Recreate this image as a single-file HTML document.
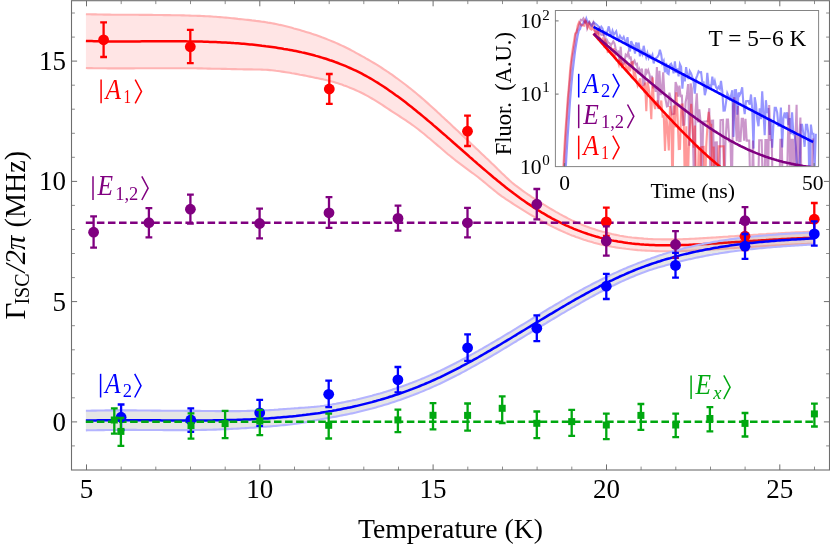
<!DOCTYPE html>
<html><head><meta charset="utf-8"><title>ISC rate vs temperature</title>
<style>html,body{margin:0;padding:0;background:#fff}svg{display:block;will-change:transform}text{font-family:"Liberation Serif",serif;fill:#000}</style>
</head><body>
<svg width="830" height="547" viewBox="0 0 830 547">
<rect width="830" height="547" fill="#fff"/>
<path d="M85.9,14.2 L87.9,14.3 L89.9,14.3 L91.9,14.4 L93.9,14.4 L95.9,14.4 L97.9,14.5 L99.9,14.5 L101.9,14.5 L103.9,14.6 L105.9,14.6 L107.9,14.6 L109.9,14.6 L111.9,14.7 L113.9,14.7 L115.9,14.7 L117.9,14.7 L119.9,14.7 L121.9,14.7 L123.9,14.8 L125.9,14.8 L127.9,14.8 L129.9,14.8 L131.9,14.8 L133.9,14.8 L135.9,14.8 L137.9,14.8 L139.9,14.9 L141.9,14.9 L143.9,14.9 L145.9,14.9 L147.9,14.9 L149.9,14.9 L151.9,14.9 L153.9,15.0 L155.9,15.0 L157.9,15.0 L159.9,15.0 L161.9,15.0 L163.9,15.1 L165.9,15.1 L167.9,15.1 L169.9,15.1 L171.9,15.2 L173.9,15.2 L175.9,15.2 L177.9,15.3 L179.9,15.3 L181.9,15.4 L183.9,15.4 L185.9,15.5 L187.9,15.5 L189.9,15.6 L191.9,15.7 L193.9,15.7 L195.9,15.8 L197.9,15.9 L199.9,15.9 L201.9,16.0 L203.9,16.1 L205.9,16.2 L207.9,16.3 L209.9,16.4 L211.9,16.5 L213.9,16.7 L215.9,16.8 L217.9,17.0 L219.9,17.1 L221.9,17.3 L223.9,17.5 L225.9,17.6 L227.9,17.8 L229.9,18.0 L231.9,18.2 L233.9,18.4 L235.9,18.6 L237.9,18.9 L239.9,19.1 L241.9,19.3 L243.9,19.5 L245.9,19.7 L247.9,19.9 L249.9,20.1 L251.9,20.4 L253.9,20.6 L255.9,20.9 L257.9,21.1 L259.9,21.4 L261.9,21.7 L263.9,21.9 L265.9,22.2 L267.9,22.6 L269.9,22.9 L271.9,23.2 L273.9,23.6 L275.9,24.0 L277.9,24.4 L279.9,24.9 L281.9,25.3 L283.9,25.8 L285.9,26.3 L287.9,26.8 L289.9,27.3 L291.9,27.8 L293.9,28.4 L295.9,28.9 L297.9,29.5 L299.9,30.1 L301.9,30.7 L303.9,31.3 L305.9,31.9 L307.9,32.5 L309.9,33.1 L311.9,33.8 L313.9,34.4 L315.9,35.1 L317.9,35.8 L319.9,36.5 L321.9,37.3 L323.9,38.0 L325.9,38.8 L327.9,39.6 L329.9,40.4 L331.9,41.2 L333.9,42.0 L335.9,42.9 L337.9,43.8 L339.9,44.7 L341.9,45.6 L343.9,46.5 L345.9,47.5 L347.9,48.5 L349.9,49.5 L351.9,50.6 L353.9,51.7 L355.9,52.8 L357.9,53.9 L359.9,55.0 L361.9,56.1 L363.9,57.2 L365.9,58.4 L367.9,59.5 L369.9,60.6 L371.9,61.8 L373.9,63.0 L375.9,64.2 L377.9,65.4 L379.9,66.7 L381.9,68.0 L383.9,69.3 L385.9,70.6 L387.9,72.0 L389.9,73.3 L391.9,74.7 L393.9,76.1 L395.9,77.6 L397.9,79.0 L399.9,80.5 L401.9,82.0 L403.9,83.5 L405.9,85.0 L407.9,86.6 L409.9,88.2 L411.9,89.7 L413.9,91.4 L415.9,93.0 L417.9,94.7 L419.9,96.4 L421.9,98.1 L423.9,99.8 L425.9,101.6 L427.9,103.4 L429.9,105.2 L431.9,107.0 L433.9,108.8 L435.9,110.6 L437.9,112.5 L439.9,114.3 L441.9,116.2 L443.9,118.0 L445.9,119.9 L447.9,121.7 L449.9,123.6 L451.9,125.5 L453.9,127.4 L455.9,129.2 L457.9,131.1 L459.9,133.0 L461.9,134.9 L463.9,136.8 L465.9,138.7 L467.9,140.6 L469.9,142.5 L471.9,144.4 L473.9,146.3 L475.9,148.2 L477.9,150.1 L479.9,152.0 L481.9,153.9 L483.9,155.8 L485.9,157.7 L487.9,159.5 L489.9,161.4 L491.9,163.4 L493.9,165.3 L495.9,167.3 L497.9,169.3 L499.9,171.2 L501.9,173.2 L503.9,175.1 L505.9,177.1 L507.9,178.9 L509.9,180.7 L511.9,182.5 L513.9,184.1 L515.9,185.7 L517.9,187.2 L519.9,188.7 L521.9,190.2 L523.9,191.6 L525.9,193.0 L527.9,194.4 L529.9,195.7 L531.9,197.1 L533.9,198.4 L535.9,199.7 L537.9,201.0 L539.9,202.2 L541.9,203.4 L543.9,204.7 L545.9,205.9 L547.9,207.1 L549.9,208.3 L551.9,209.5 L553.9,210.6 L555.9,211.8 L557.9,212.9 L559.9,214.1 L561.9,215.2 L563.9,216.3 L565.9,217.3 L567.9,218.4 L569.9,219.4 L571.9,220.4 L573.9,221.3 L575.9,222.2 L577.9,223.1 L579.9,223.9 L581.9,224.7 L583.9,225.5 L585.9,226.3 L587.9,227.0 L589.9,227.8 L591.9,228.4 L593.9,229.1 L595.9,229.8 L597.9,230.4 L599.9,231.0 L601.9,231.6 L603.9,232.1 L605.9,232.6 L607.9,233.1 L609.9,233.6 L611.9,234.1 L613.9,234.5 L615.9,234.9 L617.9,235.3 L619.9,235.7 L621.9,236.0 L623.9,236.4 L625.9,236.7 L627.9,237.0 L629.9,237.2 L631.9,237.5 L633.9,237.7 L635.9,237.9 L637.9,238.1 L639.9,238.3 L641.9,238.4 L643.9,238.6 L645.9,238.7 L647.9,238.9 L649.9,239.0 L651.9,239.1 L653.9,239.2 L655.9,239.2 L657.9,239.3 L659.9,239.3 L661.9,239.4 L663.9,239.4 L665.9,239.4 L667.9,239.4 L669.9,239.4 L671.9,239.4 L673.9,239.4 L675.9,239.3 L677.9,239.3 L679.9,239.3 L681.9,239.2 L683.9,239.1 L685.9,239.1 L687.9,239.0 L689.9,238.9 L691.9,238.8 L693.9,238.7 L695.9,238.6 L697.9,238.5 L699.9,238.4 L701.9,238.3 L703.9,238.1 L705.9,238.0 L707.9,237.9 L709.9,237.8 L711.9,237.6 L713.9,237.5 L715.9,237.4 L717.9,237.2 L719.9,237.1 L721.9,237.0 L723.9,236.8 L725.9,236.7 L727.9,236.6 L729.9,236.4 L731.9,236.3 L733.9,236.2 L735.9,236.0 L737.9,235.9 L739.9,235.8 L741.9,235.6 L743.9,235.5 L745.9,235.4 L747.9,235.2 L749.9,235.1 L751.9,235.0 L753.9,234.8 L755.9,234.7 L757.9,234.6 L759.9,234.4 L761.9,234.3 L763.9,234.2 L765.9,234.1 L767.9,233.9 L769.9,233.8 L771.9,233.7 L773.9,233.6 L775.9,233.5 L777.9,233.4 L779.9,233.2 L781.9,233.1 L783.9,233.0 L785.9,232.9 L787.9,232.8 L789.9,232.7 L791.9,232.6 L793.9,232.5 L795.9,232.4 L797.9,232.3 L799.9,232.2 L801.9,232.2 L803.9,232.1 L805.9,232.0 L807.9,231.9 L809.9,231.9 L811.9,231.8 L813.9,231.7 L814.9,231.7 L814.9,243.7 L813.9,243.7 L811.9,243.8 L809.9,243.8 L807.9,243.9 L805.9,244.0 L803.9,244.1 L801.9,244.1 L799.9,244.2 L797.9,244.3 L795.9,244.4 L793.9,244.5 L791.9,244.6 L789.9,244.7 L787.9,244.8 L785.9,244.9 L783.9,245.0 L781.9,245.1 L779.9,245.2 L777.9,245.3 L775.9,245.4 L773.9,245.5 L771.9,245.6 L769.9,245.8 L767.9,245.9 L765.9,246.0 L763.9,246.1 L761.9,246.2 L759.9,246.4 L757.9,246.5 L755.9,246.6 L753.9,246.7 L751.9,246.9 L749.9,247.0 L747.9,247.1 L745.9,247.3 L743.9,247.4 L741.9,247.5 L739.9,247.7 L737.9,247.8 L735.9,247.9 L733.9,248.1 L731.9,248.2 L729.9,248.3 L727.9,248.5 L725.9,248.6 L723.9,248.7 L721.9,248.9 L719.9,249.0 L717.9,249.1 L715.9,249.3 L713.9,249.4 L711.9,249.5 L709.9,249.6 L707.9,249.8 L705.9,249.9 L703.9,250.0 L701.9,250.1 L699.9,250.2 L697.9,250.3 L695.9,250.4 L693.9,250.5 L691.9,250.6 L689.9,250.7 L687.9,250.8 L685.9,250.9 L683.9,250.9 L681.9,251.0 L679.9,251.1 L677.9,251.1 L675.9,251.2 L673.9,251.2 L671.9,251.2 L669.9,251.2 L667.9,251.2 L665.9,251.2 L663.9,251.2 L661.9,251.2 L659.9,251.2 L657.9,251.1 L655.9,251.1 L653.9,251.0 L651.9,250.9 L649.9,250.8 L647.9,250.7 L645.9,250.6 L643.9,250.5 L641.9,250.4 L639.9,250.2 L637.9,250.1 L635.9,249.9 L633.9,249.7 L631.9,249.5 L629.9,249.3 L627.9,249.0 L625.9,248.8 L623.9,248.5 L621.9,248.3 L619.9,248.0 L617.9,247.7 L615.9,247.4 L613.9,247.0 L611.9,246.7 L609.9,246.3 L607.9,245.9 L605.9,245.5 L603.9,245.1 L601.9,244.7 L599.9,244.2 L597.9,243.7 L595.9,243.2 L593.9,242.7 L591.9,242.1 L589.9,241.6 L587.9,241.0 L585.9,240.3 L583.9,239.7 L581.9,239.0 L579.9,238.3 L577.9,237.6 L575.9,236.9 L573.9,236.1 L571.9,235.4 L569.9,234.6 L567.9,233.7 L565.9,232.9 L563.9,232.0 L561.9,231.1 L559.9,230.2 L557.9,229.3 L555.9,228.3 L553.9,227.4 L551.9,226.4 L549.9,225.4 L547.9,224.3 L545.9,223.3 L543.9,222.2 L541.9,221.1 L539.9,220.0 L537.9,218.9 L535.9,217.8 L533.9,216.6 L531.9,215.5 L529.9,214.3 L527.9,213.1 L525.9,211.9 L523.9,210.7 L521.9,209.4 L519.9,208.2 L517.9,206.9 L515.9,205.6 L513.9,204.3 L511.9,203.0 L509.9,201.7 L507.9,200.4 L505.9,199.1 L503.9,197.7 L501.9,196.3 L499.9,194.8 L497.9,193.3 L495.9,191.7 L493.9,190.1 L491.9,188.5 L489.9,186.9 L487.9,185.2 L485.9,183.5 L483.9,181.9 L481.9,180.2 L479.9,178.6 L477.9,177.0 L475.9,175.5 L473.9,174.0 L471.9,172.6 L469.9,171.1 L467.9,169.6 L465.9,168.1 L463.9,166.6 L461.9,165.1 L459.9,163.6 L457.9,162.1 L455.9,160.6 L453.9,159.0 L451.9,157.4 L449.9,155.8 L447.9,154.2 L445.9,152.5 L443.9,150.7 L441.9,149.0 L439.9,147.3 L437.9,145.6 L435.9,143.9 L433.9,142.2 L431.9,140.5 L429.9,138.8 L427.9,137.2 L425.9,135.5 L423.9,133.8 L421.9,132.2 L419.9,130.6 L417.9,129.0 L415.9,127.5 L413.9,126.0 L411.9,124.6 L409.9,123.2 L407.9,121.8 L405.9,120.4 L403.9,119.1 L401.9,117.8 L399.9,116.5 L397.9,115.2 L395.9,113.9 L393.9,112.6 L391.9,111.3 L389.9,110.0 L387.9,108.7 L385.9,107.3 L383.9,106.0 L381.9,104.7 L379.9,103.4 L377.9,102.1 L375.9,100.9 L373.9,99.7 L371.9,98.5 L369.9,97.3 L367.9,96.2 L365.9,95.1 L363.9,94.0 L361.9,93.0 L359.9,92.0 L357.9,91.1 L355.9,90.2 L353.9,89.3 L351.9,88.5 L349.9,87.7 L347.9,86.9 L345.9,86.1 L343.9,85.4 L341.9,84.6 L339.9,83.9 L337.9,83.3 L335.9,82.7 L333.9,82.1 L331.9,81.5 L329.9,81.0 L327.9,80.5 L325.9,80.0 L323.9,79.6 L321.9,79.1 L319.9,78.7 L317.9,78.3 L315.9,77.9 L313.9,77.4 L311.9,77.0 L309.9,76.6 L307.9,76.2 L305.9,75.8 L303.9,75.4 L301.9,75.0 L299.9,74.7 L297.9,74.3 L295.9,73.9 L293.9,73.5 L291.9,73.2 L289.9,72.8 L287.9,72.5 L285.9,72.2 L283.9,71.9 L281.9,71.6 L279.9,71.3 L277.9,71.0 L275.9,70.8 L273.9,70.5 L271.9,70.3 L269.9,70.1 L267.9,69.9 L265.9,69.8 L263.9,69.7 L261.9,69.6 L259.9,69.5 L257.9,69.5 L255.9,69.5 L253.9,69.5 L251.9,69.4 L249.9,69.4 L247.9,69.4 L245.9,69.4 L243.9,69.4 L241.9,69.3 L239.9,69.3 L237.9,69.2 L235.9,69.1 L233.9,69.1 L231.9,69.1 L229.9,69.0 L227.9,69.0 L225.9,68.9 L223.9,68.9 L221.9,68.9 L219.9,68.8 L217.9,68.8 L215.9,68.8 L213.9,68.7 L211.9,68.7 L209.9,68.6 L207.9,68.6 L205.9,68.5 L203.9,68.5 L201.9,68.4 L199.9,68.4 L197.9,68.4 L195.9,68.3 L193.9,68.3 L191.9,68.3 L189.9,68.3 L187.9,68.2 L185.9,68.2 L183.9,68.2 L181.9,68.2 L179.9,68.2 L177.9,68.2 L175.9,68.2 L173.9,68.2 L171.9,68.2 L169.9,68.2 L167.9,68.2 L165.9,68.2 L163.9,68.2 L161.9,68.2 L159.9,68.2 L157.9,68.2 L155.9,68.2 L153.9,68.2 L151.9,68.2 L149.9,68.3 L147.9,68.3 L145.9,68.3 L143.9,68.3 L141.9,68.3 L139.9,68.3 L137.9,68.3 L135.9,68.3 L133.9,68.4 L131.9,68.4 L129.9,68.4 L127.9,68.4 L125.9,68.4 L123.9,68.4 L121.9,68.4 L119.9,68.4 L117.9,68.4 L115.9,68.4 L113.9,68.4 L111.9,68.4 L109.9,68.4 L107.9,68.4 L105.9,68.3 L103.9,68.3 L101.9,68.3 L99.9,68.3 L97.9,68.3 L95.9,68.2 L93.9,68.2 L91.9,68.1 L89.9,68.1 L87.9,68.1 L85.9,68.0Z" fill="rgba(255,0,0,0.10)" stroke="none"/>
<path d="M85.9,14.2 L87.9,14.3 L89.9,14.3 L91.9,14.4 L93.9,14.4 L95.9,14.4 L97.9,14.5 L99.9,14.5 L101.9,14.5 L103.9,14.6 L105.9,14.6 L107.9,14.6 L109.9,14.6 L111.9,14.7 L113.9,14.7 L115.9,14.7 L117.9,14.7 L119.9,14.7 L121.9,14.7 L123.9,14.8 L125.9,14.8 L127.9,14.8 L129.9,14.8 L131.9,14.8 L133.9,14.8 L135.9,14.8 L137.9,14.8 L139.9,14.9 L141.9,14.9 L143.9,14.9 L145.9,14.9 L147.9,14.9 L149.9,14.9 L151.9,14.9 L153.9,15.0 L155.9,15.0 L157.9,15.0 L159.9,15.0 L161.9,15.0 L163.9,15.1 L165.9,15.1 L167.9,15.1 L169.9,15.1 L171.9,15.2 L173.9,15.2 L175.9,15.2 L177.9,15.3 L179.9,15.3 L181.9,15.4 L183.9,15.4 L185.9,15.5 L187.9,15.5 L189.9,15.6 L191.9,15.7 L193.9,15.7 L195.9,15.8 L197.9,15.9 L199.9,15.9 L201.9,16.0 L203.9,16.1 L205.9,16.2 L207.9,16.3 L209.9,16.4 L211.9,16.5 L213.9,16.7 L215.9,16.8 L217.9,17.0 L219.9,17.1 L221.9,17.3 L223.9,17.5 L225.9,17.6 L227.9,17.8 L229.9,18.0 L231.9,18.2 L233.9,18.4 L235.9,18.6 L237.9,18.9 L239.9,19.1 L241.9,19.3 L243.9,19.5 L245.9,19.7 L247.9,19.9 L249.9,20.1 L251.9,20.4 L253.9,20.6 L255.9,20.9 L257.9,21.1 L259.9,21.4 L261.9,21.7 L263.9,21.9 L265.9,22.2 L267.9,22.6 L269.9,22.9 L271.9,23.2 L273.9,23.6 L275.9,24.0 L277.9,24.4 L279.9,24.9 L281.9,25.3 L283.9,25.8 L285.9,26.3 L287.9,26.8 L289.9,27.3 L291.9,27.8 L293.9,28.4 L295.9,28.9 L297.9,29.5 L299.9,30.1 L301.9,30.7 L303.9,31.3 L305.9,31.9 L307.9,32.5 L309.9,33.1 L311.9,33.8 L313.9,34.4 L315.9,35.1 L317.9,35.8 L319.9,36.5 L321.9,37.3 L323.9,38.0 L325.9,38.8 L327.9,39.6 L329.9,40.4 L331.9,41.2 L333.9,42.0 L335.9,42.9 L337.9,43.8 L339.9,44.7 L341.9,45.6 L343.9,46.5 L345.9,47.5 L347.9,48.5 L349.9,49.5 L351.9,50.6 L353.9,51.7 L355.9,52.8 L357.9,53.9 L359.9,55.0 L361.9,56.1 L363.9,57.2 L365.9,58.4 L367.9,59.5 L369.9,60.6 L371.9,61.8 L373.9,63.0 L375.9,64.2 L377.9,65.4 L379.9,66.7 L381.9,68.0 L383.9,69.3 L385.9,70.6 L387.9,72.0 L389.9,73.3 L391.9,74.7 L393.9,76.1 L395.9,77.6 L397.9,79.0 L399.9,80.5 L401.9,82.0 L403.9,83.5 L405.9,85.0 L407.9,86.6 L409.9,88.2 L411.9,89.7 L413.9,91.4 L415.9,93.0 L417.9,94.7 L419.9,96.4 L421.9,98.1 L423.9,99.8 L425.9,101.6 L427.9,103.4 L429.9,105.2 L431.9,107.0 L433.9,108.8 L435.9,110.6 L437.9,112.5 L439.9,114.3 L441.9,116.2 L443.9,118.0 L445.9,119.9 L447.9,121.7 L449.9,123.6 L451.9,125.5 L453.9,127.4 L455.9,129.2 L457.9,131.1 L459.9,133.0 L461.9,134.9 L463.9,136.8 L465.9,138.7 L467.9,140.6 L469.9,142.5 L471.9,144.4 L473.9,146.3 L475.9,148.2 L477.9,150.1 L479.9,152.0 L481.9,153.9 L483.9,155.8 L485.9,157.7 L487.9,159.5 L489.9,161.4 L491.9,163.4 L493.9,165.3 L495.9,167.3 L497.9,169.3 L499.9,171.2 L501.9,173.2 L503.9,175.1 L505.9,177.1 L507.9,178.9 L509.9,180.7 L511.9,182.5 L513.9,184.1 L515.9,185.7 L517.9,187.2 L519.9,188.7 L521.9,190.2 L523.9,191.6 L525.9,193.0 L527.9,194.4 L529.9,195.7 L531.9,197.1 L533.9,198.4 L535.9,199.7 L537.9,201.0 L539.9,202.2 L541.9,203.4 L543.9,204.7 L545.9,205.9 L547.9,207.1 L549.9,208.3 L551.9,209.5 L553.9,210.6 L555.9,211.8 L557.9,212.9 L559.9,214.1 L561.9,215.2 L563.9,216.3 L565.9,217.3 L567.9,218.4 L569.9,219.4 L571.9,220.4 L573.9,221.3 L575.9,222.2 L577.9,223.1 L579.9,223.9 L581.9,224.7 L583.9,225.5 L585.9,226.3 L587.9,227.0 L589.9,227.8 L591.9,228.4 L593.9,229.1 L595.9,229.8 L597.9,230.4 L599.9,231.0 L601.9,231.6 L603.9,232.1 L605.9,232.6 L607.9,233.1 L609.9,233.6 L611.9,234.1 L613.9,234.5 L615.9,234.9 L617.9,235.3 L619.9,235.7 L621.9,236.0 L623.9,236.4 L625.9,236.7 L627.9,237.0 L629.9,237.2 L631.9,237.5 L633.9,237.7 L635.9,237.9 L637.9,238.1 L639.9,238.3 L641.9,238.4 L643.9,238.6 L645.9,238.7 L647.9,238.9 L649.9,239.0 L651.9,239.1 L653.9,239.2 L655.9,239.2 L657.9,239.3 L659.9,239.3 L661.9,239.4 L663.9,239.4 L665.9,239.4 L667.9,239.4 L669.9,239.4 L671.9,239.4 L673.9,239.4 L675.9,239.3 L677.9,239.3 L679.9,239.3 L681.9,239.2 L683.9,239.1 L685.9,239.1 L687.9,239.0 L689.9,238.9 L691.9,238.8 L693.9,238.7 L695.9,238.6 L697.9,238.5 L699.9,238.4 L701.9,238.3 L703.9,238.1 L705.9,238.0 L707.9,237.9 L709.9,237.8 L711.9,237.6 L713.9,237.5 L715.9,237.4 L717.9,237.2 L719.9,237.1 L721.9,237.0 L723.9,236.8 L725.9,236.7 L727.9,236.6 L729.9,236.4 L731.9,236.3 L733.9,236.2 L735.9,236.0 L737.9,235.9 L739.9,235.8 L741.9,235.6 L743.9,235.5 L745.9,235.4 L747.9,235.2 L749.9,235.1 L751.9,235.0 L753.9,234.8 L755.9,234.7 L757.9,234.6 L759.9,234.4 L761.9,234.3 L763.9,234.2 L765.9,234.1 L767.9,233.9 L769.9,233.8 L771.9,233.7 L773.9,233.6 L775.9,233.5 L777.9,233.4 L779.9,233.2 L781.9,233.1 L783.9,233.0 L785.9,232.9 L787.9,232.8 L789.9,232.7 L791.9,232.6 L793.9,232.5 L795.9,232.4 L797.9,232.3 L799.9,232.2 L801.9,232.2 L803.9,232.1 L805.9,232.0 L807.9,231.9 L809.9,231.9 L811.9,231.8 L813.9,231.7 L814.9,231.7" fill="none" stroke="#ffb4b4" stroke-width="2.1"/>
<path d="M85.9,68.0 L87.9,68.1 L89.9,68.1 L91.9,68.1 L93.9,68.2 L95.9,68.2 L97.9,68.3 L99.9,68.3 L101.9,68.3 L103.9,68.3 L105.9,68.3 L107.9,68.4 L109.9,68.4 L111.9,68.4 L113.9,68.4 L115.9,68.4 L117.9,68.4 L119.9,68.4 L121.9,68.4 L123.9,68.4 L125.9,68.4 L127.9,68.4 L129.9,68.4 L131.9,68.4 L133.9,68.4 L135.9,68.3 L137.9,68.3 L139.9,68.3 L141.9,68.3 L143.9,68.3 L145.9,68.3 L147.9,68.3 L149.9,68.3 L151.9,68.2 L153.9,68.2 L155.9,68.2 L157.9,68.2 L159.9,68.2 L161.9,68.2 L163.9,68.2 L165.9,68.2 L167.9,68.2 L169.9,68.2 L171.9,68.2 L173.9,68.2 L175.9,68.2 L177.9,68.2 L179.9,68.2 L181.9,68.2 L183.9,68.2 L185.9,68.2 L187.9,68.2 L189.9,68.3 L191.9,68.3 L193.9,68.3 L195.9,68.3 L197.9,68.4 L199.9,68.4 L201.9,68.4 L203.9,68.5 L205.9,68.5 L207.9,68.6 L209.9,68.6 L211.9,68.7 L213.9,68.7 L215.9,68.8 L217.9,68.8 L219.9,68.8 L221.9,68.9 L223.9,68.9 L225.9,68.9 L227.9,69.0 L229.9,69.0 L231.9,69.1 L233.9,69.1 L235.9,69.1 L237.9,69.2 L239.9,69.3 L241.9,69.3 L243.9,69.4 L245.9,69.4 L247.9,69.4 L249.9,69.4 L251.9,69.4 L253.9,69.5 L255.9,69.5 L257.9,69.5 L259.9,69.5 L261.9,69.6 L263.9,69.7 L265.9,69.8 L267.9,69.9 L269.9,70.1 L271.9,70.3 L273.9,70.5 L275.9,70.8 L277.9,71.0 L279.9,71.3 L281.9,71.6 L283.9,71.9 L285.9,72.2 L287.9,72.5 L289.9,72.8 L291.9,73.2 L293.9,73.5 L295.9,73.9 L297.9,74.3 L299.9,74.7 L301.9,75.0 L303.9,75.4 L305.9,75.8 L307.9,76.2 L309.9,76.6 L311.9,77.0 L313.9,77.4 L315.9,77.9 L317.9,78.3 L319.9,78.7 L321.9,79.1 L323.9,79.6 L325.9,80.0 L327.9,80.5 L329.9,81.0 L331.9,81.5 L333.9,82.1 L335.9,82.7 L337.9,83.3 L339.9,83.9 L341.9,84.6 L343.9,85.4 L345.9,86.1 L347.9,86.9 L349.9,87.7 L351.9,88.5 L353.9,89.3 L355.9,90.2 L357.9,91.1 L359.9,92.0 L361.9,93.0 L363.9,94.0 L365.9,95.1 L367.9,96.2 L369.9,97.3 L371.9,98.5 L373.9,99.7 L375.9,100.9 L377.9,102.1 L379.9,103.4 L381.9,104.7 L383.9,106.0 L385.9,107.3 L387.9,108.7 L389.9,110.0 L391.9,111.3 L393.9,112.6 L395.9,113.9 L397.9,115.2 L399.9,116.5 L401.9,117.8 L403.9,119.1 L405.9,120.4 L407.9,121.8 L409.9,123.2 L411.9,124.6 L413.9,126.0 L415.9,127.5 L417.9,129.0 L419.9,130.6 L421.9,132.2 L423.9,133.8 L425.9,135.5 L427.9,137.2 L429.9,138.8 L431.9,140.5 L433.9,142.2 L435.9,143.9 L437.9,145.6 L439.9,147.3 L441.9,149.0 L443.9,150.7 L445.9,152.5 L447.9,154.2 L449.9,155.8 L451.9,157.4 L453.9,159.0 L455.9,160.6 L457.9,162.1 L459.9,163.6 L461.9,165.1 L463.9,166.6 L465.9,168.1 L467.9,169.6 L469.9,171.1 L471.9,172.6 L473.9,174.0 L475.9,175.5 L477.9,177.0 L479.9,178.6 L481.9,180.2 L483.9,181.9 L485.9,183.5 L487.9,185.2 L489.9,186.9 L491.9,188.5 L493.9,190.1 L495.9,191.7 L497.9,193.3 L499.9,194.8 L501.9,196.3 L503.9,197.7 L505.9,199.1 L507.9,200.4 L509.9,201.7 L511.9,203.0 L513.9,204.3 L515.9,205.6 L517.9,206.9 L519.9,208.2 L521.9,209.4 L523.9,210.7 L525.9,211.9 L527.9,213.1 L529.9,214.3 L531.9,215.5 L533.9,216.6 L535.9,217.8 L537.9,218.9 L539.9,220.0 L541.9,221.1 L543.9,222.2 L545.9,223.3 L547.9,224.3 L549.9,225.4 L551.9,226.4 L553.9,227.4 L555.9,228.3 L557.9,229.3 L559.9,230.2 L561.9,231.1 L563.9,232.0 L565.9,232.9 L567.9,233.7 L569.9,234.6 L571.9,235.4 L573.9,236.1 L575.9,236.9 L577.9,237.6 L579.9,238.3 L581.9,239.0 L583.9,239.7 L585.9,240.3 L587.9,241.0 L589.9,241.6 L591.9,242.1 L593.9,242.7 L595.9,243.2 L597.9,243.7 L599.9,244.2 L601.9,244.7 L603.9,245.1 L605.9,245.5 L607.9,245.9 L609.9,246.3 L611.9,246.7 L613.9,247.0 L615.9,247.4 L617.9,247.7 L619.9,248.0 L621.9,248.3 L623.9,248.5 L625.9,248.8 L627.9,249.0 L629.9,249.3 L631.9,249.5 L633.9,249.7 L635.9,249.9 L637.9,250.1 L639.9,250.2 L641.9,250.4 L643.9,250.5 L645.9,250.6 L647.9,250.7 L649.9,250.8 L651.9,250.9 L653.9,251.0 L655.9,251.1 L657.9,251.1 L659.9,251.2 L661.9,251.2 L663.9,251.2 L665.9,251.2 L667.9,251.2 L669.9,251.2 L671.9,251.2 L673.9,251.2 L675.9,251.2 L677.9,251.1 L679.9,251.1 L681.9,251.0 L683.9,250.9 L685.9,250.9 L687.9,250.8 L689.9,250.7 L691.9,250.6 L693.9,250.5 L695.9,250.4 L697.9,250.3 L699.9,250.2 L701.9,250.1 L703.9,250.0 L705.9,249.9 L707.9,249.8 L709.9,249.6 L711.9,249.5 L713.9,249.4 L715.9,249.3 L717.9,249.1 L719.9,249.0 L721.9,248.9 L723.9,248.7 L725.9,248.6 L727.9,248.5 L729.9,248.3 L731.9,248.2 L733.9,248.1 L735.9,247.9 L737.9,247.8 L739.9,247.7 L741.9,247.5 L743.9,247.4 L745.9,247.3 L747.9,247.1 L749.9,247.0 L751.9,246.9 L753.9,246.7 L755.9,246.6 L757.9,246.5 L759.9,246.4 L761.9,246.2 L763.9,246.1 L765.9,246.0 L767.9,245.9 L769.9,245.8 L771.9,245.6 L773.9,245.5 L775.9,245.4 L777.9,245.3 L779.9,245.2 L781.9,245.1 L783.9,245.0 L785.9,244.9 L787.9,244.8 L789.9,244.7 L791.9,244.6 L793.9,244.5 L795.9,244.4 L797.9,244.3 L799.9,244.2 L801.9,244.1 L803.9,244.1 L805.9,244.0 L807.9,243.9 L809.9,243.8 L811.9,243.8 L813.9,243.7 L814.9,243.7" fill="none" stroke="#ffb4b4" stroke-width="2.1"/>
<path d="M85.9,41.0 L87.9,41.1 L89.9,41.1 L91.9,41.1 L93.9,41.2 L95.9,41.2 L97.9,41.3 L99.9,41.3 L101.9,41.3 L103.9,41.3 L105.9,41.3 L107.9,41.4 L109.9,41.4 L111.9,41.4 L113.9,41.4 L115.9,41.4 L117.9,41.4 L119.9,41.4 L121.9,41.4 L123.9,41.4 L125.9,41.4 L127.9,41.4 L129.9,41.4 L131.9,41.4 L133.9,41.4 L135.9,41.4 L137.9,41.4 L139.9,41.4 L141.9,41.3 L143.9,41.3 L145.9,41.3 L147.9,41.3 L149.9,41.3 L151.9,41.3 L153.9,41.3 L155.9,41.3 L157.9,41.3 L159.9,41.3 L161.9,41.3 L163.9,41.3 L165.9,41.3 L167.9,41.3 L169.9,41.3 L171.9,41.3 L173.9,41.3 L175.9,41.3 L177.9,41.3 L179.9,41.3 L181.9,41.3 L183.9,41.3 L185.9,41.3 L187.9,41.4 L189.9,41.4 L191.9,41.4 L193.9,41.5 L195.9,41.5 L197.9,41.5 L199.9,41.6 L201.9,41.6 L203.9,41.7 L205.9,41.7 L207.9,41.8 L209.9,41.9 L211.9,41.9 L213.9,42.0 L215.9,42.1 L217.9,42.2 L219.9,42.3 L221.9,42.4 L223.9,42.5 L225.9,42.6 L227.9,42.7 L229.9,42.8 L231.9,42.9 L233.9,43.1 L235.9,43.2 L237.9,43.3 L239.9,43.5 L241.9,43.7 L243.9,43.8 L245.9,44.0 L247.9,44.2 L249.9,44.4 L251.9,44.6 L253.9,44.8 L255.9,45.0 L257.9,45.2 L259.9,45.4 L261.9,45.7 L263.9,45.9 L265.9,46.2 L267.9,46.4 L269.9,46.7 L271.9,47.0 L273.9,47.3 L275.9,47.6 L277.9,47.9 L279.9,48.2 L281.9,48.5 L283.9,48.9 L285.9,49.2 L287.9,49.6 L289.9,49.9 L291.9,50.3 L293.9,50.7 L295.9,51.1 L297.9,51.5 L299.9,51.9 L301.9,52.4 L303.9,52.8 L305.9,53.3 L307.9,53.8 L309.9,54.3 L311.9,54.8 L313.9,55.3 L315.9,55.9 L317.9,56.4 L319.9,57.0 L321.9,57.6 L323.9,58.2 L325.9,58.8 L327.9,59.5 L329.9,60.2 L331.9,60.8 L333.9,61.5 L335.9,62.3 L337.9,63.0 L339.9,63.8 L341.9,64.6 L343.9,65.4 L345.9,66.2 L347.9,67.1 L349.9,68.0 L351.9,68.9 L353.9,69.8 L355.9,70.7 L357.9,71.7 L359.9,72.7 L361.9,73.7 L363.9,74.8 L365.9,75.9 L367.9,77.0 L369.9,78.1 L371.9,79.3 L373.9,80.5 L375.9,81.7 L377.9,82.9 L379.9,84.2 L381.9,85.5 L383.9,86.8 L385.9,88.1 L387.9,89.5 L389.9,90.9 L391.9,92.3 L393.9,93.7 L395.9,95.2 L397.9,96.6 L399.9,98.1 L401.9,99.6 L403.9,101.1 L405.9,102.6 L407.9,104.2 L409.9,105.8 L411.9,107.3 L413.9,108.9 L415.9,110.5 L417.9,112.2 L419.9,113.8 L421.9,115.4 L423.9,117.1 L425.9,118.8 L427.9,120.5 L429.9,122.1 L431.9,123.8 L433.9,125.6 L435.9,127.3 L437.9,129.0 L439.9,130.7 L441.9,132.5 L443.9,134.2 L445.9,135.9 L447.9,137.7 L449.9,139.4 L451.9,141.2 L453.9,143.0 L455.9,144.7 L457.9,146.5 L459.9,148.2 L461.9,150.0 L463.9,151.8 L465.9,153.5 L467.9,155.3 L469.9,157.1 L471.9,158.8 L473.9,160.6 L475.9,162.3 L477.9,164.1 L479.9,165.8 L481.9,167.5 L483.9,169.2 L485.9,170.9 L487.9,172.6 L489.9,174.3 L491.9,176.0 L493.9,177.7 L495.9,179.3 L497.9,181.0 L499.9,182.6 L501.9,184.2 L503.9,185.8 L505.9,187.4 L507.9,189.0 L509.9,190.5 L511.9,192.0 L513.9,193.6 L515.9,195.0 L517.9,196.5 L519.9,198.0 L521.9,199.4 L523.9,200.8 L525.9,202.2 L527.9,203.6 L529.9,204.9 L531.9,206.3 L533.9,207.6 L535.9,208.8 L537.9,210.1 L539.9,211.3 L541.9,212.6 L543.9,213.7 L545.9,214.9 L547.9,216.1 L549.9,217.2 L551.9,218.3 L553.9,219.3 L555.9,220.4 L557.9,221.4 L559.9,222.4 L561.9,223.4 L563.9,224.3 L565.9,225.3 L567.9,226.2 L569.9,227.1 L571.9,227.9 L573.9,228.8 L575.9,229.6 L577.9,230.4 L579.9,231.1 L581.9,231.9 L583.9,232.6 L585.9,233.3 L587.9,234.0 L589.9,234.6 L591.9,235.3 L593.9,235.9 L595.9,236.5 L597.9,237.0 L599.9,237.6 L601.9,238.1 L603.9,238.6 L605.9,239.1 L607.9,239.5 L609.9,239.9 L611.9,240.4 L613.9,240.8 L615.9,241.1 L617.9,241.5 L619.9,241.8 L621.9,242.1 L623.9,242.4 L625.9,242.7 L627.9,243.0 L629.9,243.2 L631.9,243.5 L633.9,243.7 L635.9,243.9 L637.9,244.1 L639.9,244.3 L641.9,244.4 L643.9,244.6 L645.9,244.7 L647.9,244.8 L649.9,244.9 L651.9,245.0 L653.9,245.1 L655.9,245.2 L657.9,245.2 L659.9,245.3 L661.9,245.3 L663.9,245.3 L665.9,245.3 L667.9,245.3 L669.9,245.3 L671.9,245.3 L673.9,245.3 L675.9,245.3 L677.9,245.2 L679.9,245.2 L681.9,245.1 L683.9,245.0 L685.9,245.0 L687.9,244.9 L689.9,244.8 L691.9,244.7 L693.9,244.6 L695.9,244.5 L697.9,244.4 L699.9,244.3 L701.9,244.2 L703.9,244.1 L705.9,244.0 L707.9,243.9 L709.9,243.7 L711.9,243.6 L713.9,243.5 L715.9,243.4 L717.9,243.2 L719.9,243.1 L721.9,243.0 L723.9,242.8 L725.9,242.7 L727.9,242.6 L729.9,242.4 L731.9,242.3 L733.9,242.2 L735.9,242.0 L737.9,241.9 L739.9,241.8 L741.9,241.6 L743.9,241.5 L745.9,241.4 L747.9,241.2 L749.9,241.1 L751.9,241.0 L753.9,240.8 L755.9,240.7 L757.9,240.6 L759.9,240.4 L761.9,240.3 L763.9,240.2 L765.9,240.1 L767.9,239.9 L769.9,239.8 L771.9,239.7 L773.9,239.6 L775.9,239.5 L777.9,239.4 L779.9,239.2 L781.9,239.1 L783.9,239.0 L785.9,238.9 L787.9,238.8 L789.9,238.7 L791.9,238.6 L793.9,238.5 L795.9,238.4 L797.9,238.3 L799.9,238.2 L801.9,238.2 L803.9,238.1 L805.9,238.0 L807.9,237.9 L809.9,237.9 L811.9,237.8 L813.9,237.7 L814.9,237.7" fill="none" stroke="#ff0000" stroke-width="2.5"/>
<path d="M85.9,410.8 L87.9,410.7 L89.9,410.7 L91.9,410.6 L93.9,410.6 L95.9,410.6 L97.9,410.5 L99.9,410.5 L101.9,410.5 L103.9,410.5 L105.9,410.4 L107.9,410.4 L109.9,410.4 L111.9,410.4 L113.9,410.4 L115.9,410.4 L117.9,410.4 L119.9,410.4 L121.9,410.4 L123.9,410.4 L125.9,410.4 L127.9,410.4 L129.9,410.4 L131.9,410.4 L133.9,410.4 L135.9,410.4 L137.9,410.5 L139.9,410.5 L141.9,410.5 L143.9,410.5 L145.9,410.5 L147.9,410.5 L149.9,410.5 L151.9,410.6 L153.9,410.6 L155.9,410.6 L157.9,410.6 L159.9,410.6 L161.9,410.7 L163.9,410.7 L165.9,410.7 L167.9,410.7 L169.9,410.7 L171.9,410.8 L173.9,410.8 L175.9,410.8 L177.9,410.8 L179.9,410.8 L181.9,410.8 L183.9,410.8 L185.9,410.9 L187.9,410.9 L189.9,410.9 L191.9,410.9 L193.9,410.9 L195.9,410.9 L197.9,410.9 L199.9,410.9 L201.9,411.0 L203.9,411.0 L205.9,411.0 L207.9,411.0 L209.9,411.0 L211.9,411.0 L213.9,411.0 L215.9,411.1 L217.9,411.1 L219.9,411.1 L221.9,411.1 L223.9,411.1 L225.9,411.1 L227.9,411.1 L229.9,411.1 L231.9,411.1 L233.9,411.1 L235.9,411.1 L237.9,411.1 L239.9,411.1 L241.9,411.0 L243.9,411.0 L245.9,411.0 L247.9,410.9 L249.9,410.9 L251.9,410.8 L253.9,410.8 L255.9,410.7 L257.9,410.7 L259.9,410.6 L261.9,410.5 L263.9,410.4 L265.9,410.3 L267.9,410.2 L269.9,410.1 L271.9,410.0 L273.9,409.9 L275.9,409.7 L277.9,409.6 L279.9,409.4 L281.9,409.3 L283.9,409.1 L285.9,409.0 L287.9,408.8 L289.9,408.7 L291.9,408.5 L293.9,408.4 L295.9,408.2 L297.9,408.1 L299.9,407.9 L301.9,407.8 L303.9,407.7 L305.9,407.5 L307.9,407.4 L309.9,407.2 L311.9,407.0 L313.9,406.9 L315.9,406.7 L317.9,406.5 L319.9,406.3 L321.9,406.0 L323.9,405.8 L325.9,405.5 L327.9,405.2 L329.9,404.8 L331.9,404.5 L333.9,404.1 L335.9,403.8 L337.9,403.4 L339.9,403.0 L341.9,402.6 L343.9,402.2 L345.9,401.8 L347.9,401.4 L349.9,401.0 L351.9,400.6 L353.9,400.1 L355.9,399.7 L357.9,399.2 L359.9,398.7 L361.9,398.2 L363.9,397.7 L365.9,397.2 L367.9,396.7 L369.9,396.2 L371.9,395.7 L373.9,395.1 L375.9,394.6 L377.9,394.0 L379.9,393.5 L381.9,392.9 L383.9,392.3 L385.9,391.7 L387.9,391.1 L389.9,390.4 L391.9,389.8 L393.9,389.1 L395.9,388.5 L397.9,387.8 L399.9,387.1 L401.9,386.4 L403.9,385.7 L405.9,385.0 L407.9,384.3 L409.9,383.5 L411.9,382.8 L413.9,382.0 L415.9,381.2 L417.9,380.4 L419.9,379.6 L421.9,378.8 L423.9,378.0 L425.9,377.1 L427.9,376.3 L429.9,375.4 L431.9,374.5 L433.9,373.6 L435.9,372.7 L437.9,371.8 L439.9,370.9 L441.9,369.9 L443.9,369.0 L445.9,368.0 L447.9,367.0 L449.9,366.0 L451.9,365.0 L453.9,364.0 L455.9,363.0 L457.9,361.9 L459.9,360.9 L461.9,359.8 L463.9,358.8 L465.9,357.7 L467.9,356.6 L469.9,355.5 L471.9,354.4 L473.9,353.3 L475.9,352.2 L477.9,351.1 L479.9,349.9 L481.9,348.8 L483.9,347.6 L485.9,346.5 L487.9,345.3 L489.9,344.2 L491.9,343.0 L493.9,341.8 L495.9,340.7 L497.9,339.5 L499.9,338.3 L501.9,337.1 L503.9,335.9 L505.9,334.7 L507.9,333.5 L509.9,332.3 L511.9,331.1 L513.9,329.9 L515.9,328.7 L517.9,327.4 L519.9,326.2 L521.9,325.0 L523.9,323.8 L525.9,322.6 L527.9,321.4 L529.9,320.2 L531.9,318.9 L533.9,317.7 L535.9,316.5 L537.9,315.3 L539.9,314.1 L541.9,312.9 L543.9,311.7 L545.9,310.5 L547.9,309.2 L549.9,308.0 L551.9,306.9 L553.9,305.7 L555.9,304.5 L557.9,303.3 L559.9,302.1 L561.9,300.9 L563.9,299.8 L565.9,298.6 L567.9,297.4 L569.9,296.3 L571.9,295.1 L573.9,294.0 L575.9,292.9 L577.9,291.8 L579.9,290.7 L581.9,289.6 L583.9,288.5 L585.9,287.4 L587.9,286.4 L589.9,285.4 L591.9,284.3 L593.9,283.3 L595.9,282.3 L597.9,281.3 L599.9,280.2 L601.9,279.2 L603.9,278.3 L605.9,277.3 L607.9,276.3 L609.9,275.4 L611.9,274.4 L613.9,273.5 L615.9,272.6 L617.9,271.7 L619.9,270.8 L621.9,269.9 L623.9,269.0 L625.9,268.2 L627.9,267.3 L629.9,266.5 L631.9,265.7 L633.9,264.9 L635.9,264.1 L637.9,263.3 L639.9,262.6 L641.9,261.8 L643.9,261.1 L645.9,260.3 L647.9,259.6 L649.9,258.9 L651.9,258.1 L653.9,257.4 L655.9,256.7 L657.9,256.0 L659.9,255.3 L661.9,254.7 L663.9,254.0 L665.9,253.4 L667.9,252.8 L669.9,252.2 L671.9,251.6 L673.9,251.0 L675.9,250.5 L677.9,249.9 L679.9,249.4 L681.9,248.9 L683.9,248.3 L685.9,247.8 L687.9,247.3 L689.9,246.9 L691.9,246.4 L693.9,245.9 L695.9,245.5 L697.9,245.1 L699.9,244.6 L701.9,244.2 L703.9,243.8 L705.9,243.4 L707.9,243.0 L709.9,242.7 L711.9,242.3 L713.9,241.9 L715.9,241.6 L717.9,241.3 L719.9,240.9 L721.9,240.6 L723.9,240.3 L725.9,240.0 L727.9,239.7 L729.9,239.4 L731.9,239.1 L733.9,238.9 L735.9,238.6 L737.9,238.3 L739.9,238.1 L741.9,237.8 L743.9,237.6 L745.9,237.4 L747.9,237.1 L749.9,236.9 L751.9,236.7 L753.9,236.5 L755.9,236.3 L757.9,236.1 L759.9,235.9 L761.9,235.7 L763.9,235.5 L765.9,235.4 L767.9,235.2 L769.9,235.0 L771.9,234.9 L773.9,234.7 L775.9,234.6 L777.9,234.4 L779.9,234.3 L781.9,234.1 L783.9,234.0 L785.9,233.9 L787.9,233.8 L789.9,233.6 L791.9,233.5 L793.9,233.4 L795.9,233.3 L797.9,233.2 L799.9,233.1 L801.9,233.0 L803.9,232.9 L805.9,232.8 L807.9,232.7 L809.9,232.6 L811.9,232.5 L813.9,232.4 L814.9,232.4 L814.9,244.4 L813.9,244.4 L811.9,244.5 L809.9,244.6 L807.9,244.8 L805.9,244.9 L803.9,245.0 L801.9,245.1 L799.9,245.2 L797.9,245.4 L795.9,245.5 L793.9,245.6 L791.9,245.7 L789.9,245.9 L787.9,246.0 L785.9,246.1 L783.9,246.3 L781.9,246.4 L779.9,246.6 L777.9,246.7 L775.9,246.9 L773.9,247.0 L771.9,247.2 L769.9,247.4 L767.9,247.5 L765.9,247.7 L763.9,247.9 L761.9,248.1 L759.9,248.3 L757.9,248.5 L755.9,248.7 L753.9,248.9 L751.9,249.1 L749.9,249.3 L747.9,249.5 L745.9,249.8 L743.9,250.0 L741.9,250.2 L739.9,250.5 L737.9,250.7 L735.9,251.0 L733.9,251.3 L731.9,251.5 L729.9,251.8 L727.9,252.1 L725.9,252.4 L723.9,252.7 L721.9,253.0 L719.9,253.3 L717.9,253.7 L715.9,254.0 L713.9,254.3 L711.9,254.7 L709.9,255.0 L707.9,255.4 L705.9,255.8 L703.9,256.2 L701.9,256.6 L699.9,257.0 L697.9,257.4 L695.9,257.8 L693.9,258.2 L691.9,258.7 L689.9,259.1 L687.9,259.6 L685.9,260.0 L683.9,260.5 L681.9,261.0 L679.9,261.5 L677.9,262.0 L675.9,262.5 L673.9,263.1 L671.9,263.6 L669.9,264.2 L667.9,264.7 L665.9,265.3 L663.9,265.9 L661.9,266.4 L659.9,267.0 L657.9,267.6 L655.9,268.2 L653.9,268.8 L651.9,269.5 L649.9,270.1 L647.9,270.8 L645.9,271.5 L643.9,272.3 L641.9,273.0 L639.9,273.8 L637.9,274.5 L635.9,275.3 L633.9,276.2 L631.9,277.0 L629.9,277.8 L627.9,278.7 L625.9,279.6 L623.9,280.5 L621.9,281.4 L619.9,282.3 L617.9,283.2 L615.9,284.2 L613.9,285.2 L611.9,286.1 L609.9,287.1 L607.9,288.1 L605.9,289.1 L603.9,290.2 L601.9,291.2 L599.9,292.2 L597.9,293.3 L595.9,294.4 L593.9,295.5 L591.9,296.6 L589.9,297.7 L587.9,298.8 L585.9,299.9 L583.9,301.0 L581.9,302.2 L579.9,303.3 L577.9,304.5 L575.9,305.6 L573.9,306.8 L571.9,307.9 L569.9,309.1 L567.9,310.2 L565.9,311.4 L563.9,312.6 L561.9,313.7 L559.9,314.9 L557.9,316.1 L555.9,317.3 L553.9,318.5 L551.9,319.7 L549.9,320.8 L547.9,322.0 L545.9,323.3 L543.9,324.5 L541.9,325.7 L539.9,326.9 L537.9,328.1 L535.9,329.3 L533.9,330.5 L531.9,331.7 L529.9,333.0 L527.9,334.2 L525.9,335.4 L523.9,336.6 L521.9,337.8 L519.9,339.0 L517.9,340.2 L515.9,341.5 L513.9,342.7 L511.9,343.9 L509.9,345.1 L507.9,346.3 L505.9,347.5 L503.9,348.7 L501.9,349.9 L499.9,351.1 L497.9,352.3 L495.9,353.5 L493.9,354.6 L491.9,355.8 L489.9,357.0 L487.9,358.1 L485.9,359.3 L483.9,360.4 L481.9,361.6 L479.9,362.7 L477.9,363.9 L475.9,365.0 L473.9,366.1 L471.9,367.2 L469.9,368.3 L467.9,369.4 L465.9,370.5 L463.9,371.6 L461.9,372.6 L459.9,373.7 L457.9,374.7 L455.9,375.8 L453.9,376.8 L451.9,377.8 L449.9,378.8 L447.9,379.8 L445.9,380.8 L443.9,381.8 L441.9,382.7 L439.9,383.7 L437.9,384.6 L435.9,385.5 L433.9,386.4 L431.9,387.3 L429.9,388.2 L427.9,389.1 L425.9,389.9 L423.9,390.8 L421.9,391.6 L419.9,392.4 L417.9,393.2 L415.9,394.0 L413.9,394.8 L411.9,395.6 L409.9,396.3 L407.9,397.1 L405.9,397.8 L403.9,398.5 L401.9,399.2 L399.9,399.9 L397.9,400.6 L395.9,401.3 L393.9,401.9 L391.9,402.6 L389.9,403.2 L387.9,403.9 L385.9,404.5 L383.9,405.1 L381.9,405.7 L379.9,406.3 L377.9,406.8 L375.9,407.4 L373.9,407.9 L371.9,408.5 L369.9,409.0 L367.9,409.5 L365.9,410.0 L363.9,410.5 L361.9,411.0 L359.9,411.5 L357.9,412.0 L355.9,412.5 L353.9,412.9 L351.9,413.4 L349.9,413.8 L347.9,414.2 L345.9,414.6 L343.9,415.0 L341.9,415.4 L339.9,415.8 L337.9,416.2 L335.9,416.6 L333.9,416.9 L331.9,417.3 L329.9,417.6 L327.9,418.0 L325.9,418.4 L323.9,418.7 L321.9,419.1 L319.9,419.5 L317.9,419.8 L315.9,420.2 L313.9,420.6 L311.9,421.0 L309.9,421.3 L307.9,421.7 L305.9,422.1 L303.9,422.4 L301.9,422.8 L299.9,423.1 L297.9,423.4 L295.9,423.7 L293.9,424.0 L291.9,424.2 L289.9,424.5 L287.9,424.7 L285.9,424.9 L283.9,425.1 L281.9,425.3 L279.9,425.5 L277.9,425.7 L275.9,425.9 L273.9,426.0 L271.9,426.2 L269.9,426.4 L267.9,426.5 L265.9,426.7 L263.9,426.8 L261.9,427.0 L259.9,427.1 L257.9,427.3 L255.9,427.4 L253.9,427.6 L251.9,427.7 L249.9,427.8 L247.9,428.0 L245.9,428.1 L243.9,428.2 L241.9,428.3 L239.9,428.5 L237.9,428.6 L235.9,428.7 L233.9,428.8 L231.9,428.9 L229.9,429.0 L227.9,429.1 L225.9,429.2 L223.9,429.3 L221.9,429.3 L219.9,429.4 L217.9,429.5 L215.9,429.6 L213.9,429.6 L211.9,429.7 L209.9,429.8 L207.9,429.8 L205.9,429.9 L203.9,429.9 L201.9,429.9 L199.9,430.0 L197.9,430.0 L195.9,430.0 L193.9,430.1 L191.9,430.1 L189.9,430.1 L187.9,430.1 L185.9,430.1 L183.9,430.1 L181.9,430.1 L179.9,430.1 L177.9,430.1 L175.9,430.1 L173.9,430.1 L171.9,430.1 L169.9,430.1 L167.9,430.1 L165.9,430.1 L163.9,430.1 L161.9,430.0 L159.9,430.0 L157.9,430.0 L155.9,430.0 L153.9,430.0 L151.9,430.0 L149.9,430.0 L147.9,430.0 L145.9,430.0 L143.9,430.0 L141.9,430.0 L139.9,430.0 L137.9,430.0 L135.9,429.9 L133.9,429.9 L131.9,429.9 L129.9,429.9 L127.9,429.9 L125.9,429.9 L123.9,429.9 L121.9,429.9 L119.9,429.9 L117.9,430.0 L115.9,430.0 L113.9,430.0 L111.9,430.0 L109.9,430.0 L107.9,430.0 L105.9,430.0 L103.9,430.1 L101.9,430.1 L99.9,430.1 L97.9,430.1 L95.9,430.2 L93.9,430.2 L91.9,430.2 L89.9,430.3 L87.9,430.3 L85.9,430.4Z" fill="rgba(105,105,95,0.165)" stroke="none"/>
<path d="M85.9,410.8 L87.9,410.7 L89.9,410.7 L91.9,410.6 L93.9,410.6 L95.9,410.6 L97.9,410.5 L99.9,410.5 L101.9,410.5 L103.9,410.5 L105.9,410.4 L107.9,410.4 L109.9,410.4 L111.9,410.4 L113.9,410.4 L115.9,410.4 L117.9,410.4 L119.9,410.4 L121.9,410.4 L123.9,410.4 L125.9,410.4 L127.9,410.4 L129.9,410.4 L131.9,410.4 L133.9,410.4 L135.9,410.4 L137.9,410.5 L139.9,410.5 L141.9,410.5 L143.9,410.5 L145.9,410.5 L147.9,410.5 L149.9,410.5 L151.9,410.6 L153.9,410.6 L155.9,410.6 L157.9,410.6 L159.9,410.6 L161.9,410.7 L163.9,410.7 L165.9,410.7 L167.9,410.7 L169.9,410.7 L171.9,410.8 L173.9,410.8 L175.9,410.8 L177.9,410.8 L179.9,410.8 L181.9,410.8 L183.9,410.8 L185.9,410.9 L187.9,410.9 L189.9,410.9 L191.9,410.9 L193.9,410.9 L195.9,410.9 L197.9,410.9 L199.9,410.9 L201.9,411.0 L203.9,411.0 L205.9,411.0 L207.9,411.0 L209.9,411.0 L211.9,411.0 L213.9,411.0 L215.9,411.1 L217.9,411.1 L219.9,411.1 L221.9,411.1 L223.9,411.1 L225.9,411.1 L227.9,411.1 L229.9,411.1 L231.9,411.1 L233.9,411.1 L235.9,411.1 L237.9,411.1 L239.9,411.1 L241.9,411.0 L243.9,411.0 L245.9,411.0 L247.9,410.9 L249.9,410.9 L251.9,410.8 L253.9,410.8 L255.9,410.7 L257.9,410.7 L259.9,410.6 L261.9,410.5 L263.9,410.4 L265.9,410.3 L267.9,410.2 L269.9,410.1 L271.9,410.0 L273.9,409.9 L275.9,409.7 L277.9,409.6 L279.9,409.4 L281.9,409.3 L283.9,409.1 L285.9,409.0 L287.9,408.8 L289.9,408.7 L291.9,408.5 L293.9,408.4 L295.9,408.2 L297.9,408.1 L299.9,407.9 L301.9,407.8 L303.9,407.7 L305.9,407.5 L307.9,407.4 L309.9,407.2 L311.9,407.0 L313.9,406.9 L315.9,406.7 L317.9,406.5 L319.9,406.3 L321.9,406.0 L323.9,405.8 L325.9,405.5 L327.9,405.2 L329.9,404.8 L331.9,404.5 L333.9,404.1 L335.9,403.8 L337.9,403.4 L339.9,403.0 L341.9,402.6 L343.9,402.2 L345.9,401.8 L347.9,401.4 L349.9,401.0 L351.9,400.6 L353.9,400.1 L355.9,399.7 L357.9,399.2 L359.9,398.7 L361.9,398.2 L363.9,397.7 L365.9,397.2 L367.9,396.7 L369.9,396.2 L371.9,395.7 L373.9,395.1 L375.9,394.6 L377.9,394.0 L379.9,393.5 L381.9,392.9 L383.9,392.3 L385.9,391.7 L387.9,391.1 L389.9,390.4 L391.9,389.8 L393.9,389.1 L395.9,388.5 L397.9,387.8 L399.9,387.1 L401.9,386.4 L403.9,385.7 L405.9,385.0 L407.9,384.3 L409.9,383.5 L411.9,382.8 L413.9,382.0 L415.9,381.2 L417.9,380.4 L419.9,379.6 L421.9,378.8 L423.9,378.0 L425.9,377.1 L427.9,376.3 L429.9,375.4 L431.9,374.5 L433.9,373.6 L435.9,372.7 L437.9,371.8 L439.9,370.9 L441.9,369.9 L443.9,369.0 L445.9,368.0 L447.9,367.0 L449.9,366.0 L451.9,365.0 L453.9,364.0 L455.9,363.0 L457.9,361.9 L459.9,360.9 L461.9,359.8 L463.9,358.8 L465.9,357.7 L467.9,356.6 L469.9,355.5 L471.9,354.4 L473.9,353.3 L475.9,352.2 L477.9,351.1 L479.9,349.9 L481.9,348.8 L483.9,347.6 L485.9,346.5 L487.9,345.3 L489.9,344.2 L491.9,343.0 L493.9,341.8 L495.9,340.7 L497.9,339.5 L499.9,338.3 L501.9,337.1 L503.9,335.9 L505.9,334.7 L507.9,333.5 L509.9,332.3 L511.9,331.1 L513.9,329.9 L515.9,328.7 L517.9,327.4 L519.9,326.2 L521.9,325.0 L523.9,323.8 L525.9,322.6 L527.9,321.4 L529.9,320.2 L531.9,318.9 L533.9,317.7 L535.9,316.5 L537.9,315.3 L539.9,314.1 L541.9,312.9 L543.9,311.7 L545.9,310.5 L547.9,309.2 L549.9,308.0 L551.9,306.9 L553.9,305.7 L555.9,304.5 L557.9,303.3 L559.9,302.1 L561.9,300.9 L563.9,299.8 L565.9,298.6 L567.9,297.4 L569.9,296.3 L571.9,295.1 L573.9,294.0 L575.9,292.9 L577.9,291.8 L579.9,290.7 L581.9,289.6 L583.9,288.5 L585.9,287.4 L587.9,286.4 L589.9,285.4 L591.9,284.3 L593.9,283.3 L595.9,282.3 L597.9,281.3 L599.9,280.2 L601.9,279.2 L603.9,278.3 L605.9,277.3 L607.9,276.3 L609.9,275.4 L611.9,274.4 L613.9,273.5 L615.9,272.6 L617.9,271.7 L619.9,270.8 L621.9,269.9 L623.9,269.0 L625.9,268.2 L627.9,267.3 L629.9,266.5 L631.9,265.7 L633.9,264.9 L635.9,264.1 L637.9,263.3 L639.9,262.6 L641.9,261.8 L643.9,261.1 L645.9,260.3 L647.9,259.6 L649.9,258.9 L651.9,258.1 L653.9,257.4 L655.9,256.7 L657.9,256.0 L659.9,255.3 L661.9,254.7 L663.9,254.0 L665.9,253.4 L667.9,252.8 L669.9,252.2 L671.9,251.6 L673.9,251.0 L675.9,250.5 L677.9,249.9 L679.9,249.4 L681.9,248.9 L683.9,248.3 L685.9,247.8 L687.9,247.3 L689.9,246.9 L691.9,246.4 L693.9,245.9 L695.9,245.5 L697.9,245.1 L699.9,244.6 L701.9,244.2 L703.9,243.8 L705.9,243.4 L707.9,243.0 L709.9,242.7 L711.9,242.3 L713.9,241.9 L715.9,241.6 L717.9,241.3 L719.9,240.9 L721.9,240.6 L723.9,240.3 L725.9,240.0 L727.9,239.7 L729.9,239.4 L731.9,239.1 L733.9,238.9 L735.9,238.6 L737.9,238.3 L739.9,238.1 L741.9,237.8 L743.9,237.6 L745.9,237.4 L747.9,237.1 L749.9,236.9 L751.9,236.7 L753.9,236.5 L755.9,236.3 L757.9,236.1 L759.9,235.9 L761.9,235.7 L763.9,235.5 L765.9,235.4 L767.9,235.2 L769.9,235.0 L771.9,234.9 L773.9,234.7 L775.9,234.6 L777.9,234.4 L779.9,234.3 L781.9,234.1 L783.9,234.0 L785.9,233.9 L787.9,233.8 L789.9,233.6 L791.9,233.5 L793.9,233.4 L795.9,233.3 L797.9,233.2 L799.9,233.1 L801.9,233.0 L803.9,232.9 L805.9,232.8 L807.9,232.7 L809.9,232.6 L811.9,232.5 L813.9,232.4 L814.9,232.4" fill="none" stroke="#b4b4ff" stroke-width="2.1"/>
<path d="M85.9,430.4 L87.9,430.3 L89.9,430.3 L91.9,430.2 L93.9,430.2 L95.9,430.2 L97.9,430.1 L99.9,430.1 L101.9,430.1 L103.9,430.1 L105.9,430.0 L107.9,430.0 L109.9,430.0 L111.9,430.0 L113.9,430.0 L115.9,430.0 L117.9,430.0 L119.9,429.9 L121.9,429.9 L123.9,429.9 L125.9,429.9 L127.9,429.9 L129.9,429.9 L131.9,429.9 L133.9,429.9 L135.9,429.9 L137.9,430.0 L139.9,430.0 L141.9,430.0 L143.9,430.0 L145.9,430.0 L147.9,430.0 L149.9,430.0 L151.9,430.0 L153.9,430.0 L155.9,430.0 L157.9,430.0 L159.9,430.0 L161.9,430.0 L163.9,430.1 L165.9,430.1 L167.9,430.1 L169.9,430.1 L171.9,430.1 L173.9,430.1 L175.9,430.1 L177.9,430.1 L179.9,430.1 L181.9,430.1 L183.9,430.1 L185.9,430.1 L187.9,430.1 L189.9,430.1 L191.9,430.1 L193.9,430.1 L195.9,430.0 L197.9,430.0 L199.9,430.0 L201.9,429.9 L203.9,429.9 L205.9,429.9 L207.9,429.8 L209.9,429.8 L211.9,429.7 L213.9,429.6 L215.9,429.6 L217.9,429.5 L219.9,429.4 L221.9,429.3 L223.9,429.3 L225.9,429.2 L227.9,429.1 L229.9,429.0 L231.9,428.9 L233.9,428.8 L235.9,428.7 L237.9,428.6 L239.9,428.5 L241.9,428.3 L243.9,428.2 L245.9,428.1 L247.9,428.0 L249.9,427.8 L251.9,427.7 L253.9,427.6 L255.9,427.4 L257.9,427.3 L259.9,427.1 L261.9,427.0 L263.9,426.8 L265.9,426.7 L267.9,426.5 L269.9,426.4 L271.9,426.2 L273.9,426.0 L275.9,425.9 L277.9,425.7 L279.9,425.5 L281.9,425.3 L283.9,425.1 L285.9,424.9 L287.9,424.7 L289.9,424.5 L291.9,424.2 L293.9,424.0 L295.9,423.7 L297.9,423.4 L299.9,423.1 L301.9,422.8 L303.9,422.4 L305.9,422.1 L307.9,421.7 L309.9,421.3 L311.9,421.0 L313.9,420.6 L315.9,420.2 L317.9,419.8 L319.9,419.5 L321.9,419.1 L323.9,418.7 L325.9,418.4 L327.9,418.0 L329.9,417.6 L331.9,417.3 L333.9,416.9 L335.9,416.6 L337.9,416.2 L339.9,415.8 L341.9,415.4 L343.9,415.0 L345.9,414.6 L347.9,414.2 L349.9,413.8 L351.9,413.4 L353.9,412.9 L355.9,412.5 L357.9,412.0 L359.9,411.5 L361.9,411.0 L363.9,410.5 L365.9,410.0 L367.9,409.5 L369.9,409.0 L371.9,408.5 L373.9,407.9 L375.9,407.4 L377.9,406.8 L379.9,406.3 L381.9,405.7 L383.9,405.1 L385.9,404.5 L387.9,403.9 L389.9,403.2 L391.9,402.6 L393.9,401.9 L395.9,401.3 L397.9,400.6 L399.9,399.9 L401.9,399.2 L403.9,398.5 L405.9,397.8 L407.9,397.1 L409.9,396.3 L411.9,395.6 L413.9,394.8 L415.9,394.0 L417.9,393.2 L419.9,392.4 L421.9,391.6 L423.9,390.8 L425.9,389.9 L427.9,389.1 L429.9,388.2 L431.9,387.3 L433.9,386.4 L435.9,385.5 L437.9,384.6 L439.9,383.7 L441.9,382.7 L443.9,381.8 L445.9,380.8 L447.9,379.8 L449.9,378.8 L451.9,377.8 L453.9,376.8 L455.9,375.8 L457.9,374.7 L459.9,373.7 L461.9,372.6 L463.9,371.6 L465.9,370.5 L467.9,369.4 L469.9,368.3 L471.9,367.2 L473.9,366.1 L475.9,365.0 L477.9,363.9 L479.9,362.7 L481.9,361.6 L483.9,360.4 L485.9,359.3 L487.9,358.1 L489.9,357.0 L491.9,355.8 L493.9,354.6 L495.9,353.5 L497.9,352.3 L499.9,351.1 L501.9,349.9 L503.9,348.7 L505.9,347.5 L507.9,346.3 L509.9,345.1 L511.9,343.9 L513.9,342.7 L515.9,341.5 L517.9,340.2 L519.9,339.0 L521.9,337.8 L523.9,336.6 L525.9,335.4 L527.9,334.2 L529.9,333.0 L531.9,331.7 L533.9,330.5 L535.9,329.3 L537.9,328.1 L539.9,326.9 L541.9,325.7 L543.9,324.5 L545.9,323.3 L547.9,322.0 L549.9,320.8 L551.9,319.7 L553.9,318.5 L555.9,317.3 L557.9,316.1 L559.9,314.9 L561.9,313.7 L563.9,312.6 L565.9,311.4 L567.9,310.2 L569.9,309.1 L571.9,307.9 L573.9,306.8 L575.9,305.6 L577.9,304.5 L579.9,303.3 L581.9,302.2 L583.9,301.0 L585.9,299.9 L587.9,298.8 L589.9,297.7 L591.9,296.6 L593.9,295.5 L595.9,294.4 L597.9,293.3 L599.9,292.2 L601.9,291.2 L603.9,290.2 L605.9,289.1 L607.9,288.1 L609.9,287.1 L611.9,286.1 L613.9,285.2 L615.9,284.2 L617.9,283.2 L619.9,282.3 L621.9,281.4 L623.9,280.5 L625.9,279.6 L627.9,278.7 L629.9,277.8 L631.9,277.0 L633.9,276.2 L635.9,275.3 L637.9,274.5 L639.9,273.8 L641.9,273.0 L643.9,272.3 L645.9,271.5 L647.9,270.8 L649.9,270.1 L651.9,269.5 L653.9,268.8 L655.9,268.2 L657.9,267.6 L659.9,267.0 L661.9,266.4 L663.9,265.9 L665.9,265.3 L667.9,264.7 L669.9,264.2 L671.9,263.6 L673.9,263.1 L675.9,262.5 L677.9,262.0 L679.9,261.5 L681.9,261.0 L683.9,260.5 L685.9,260.0 L687.9,259.6 L689.9,259.1 L691.9,258.7 L693.9,258.2 L695.9,257.8 L697.9,257.4 L699.9,257.0 L701.9,256.6 L703.9,256.2 L705.9,255.8 L707.9,255.4 L709.9,255.0 L711.9,254.7 L713.9,254.3 L715.9,254.0 L717.9,253.7 L719.9,253.3 L721.9,253.0 L723.9,252.7 L725.9,252.4 L727.9,252.1 L729.9,251.8 L731.9,251.5 L733.9,251.3 L735.9,251.0 L737.9,250.7 L739.9,250.5 L741.9,250.2 L743.9,250.0 L745.9,249.8 L747.9,249.5 L749.9,249.3 L751.9,249.1 L753.9,248.9 L755.9,248.7 L757.9,248.5 L759.9,248.3 L761.9,248.1 L763.9,247.9 L765.9,247.7 L767.9,247.5 L769.9,247.4 L771.9,247.2 L773.9,247.0 L775.9,246.9 L777.9,246.7 L779.9,246.6 L781.9,246.4 L783.9,246.3 L785.9,246.1 L787.9,246.0 L789.9,245.9 L791.9,245.7 L793.9,245.6 L795.9,245.5 L797.9,245.4 L799.9,245.2 L801.9,245.1 L803.9,245.0 L805.9,244.9 L807.9,244.8 L809.9,244.6 L811.9,244.5 L813.9,244.4 L814.9,244.4" fill="none" stroke="#b4b4ff" stroke-width="2.1"/>
<path d="M85.9,420.6 L87.9,420.5 L89.9,420.5 L91.9,420.4 L93.9,420.4 L95.9,420.4 L97.9,420.3 L99.9,420.3 L101.9,420.3 L103.9,420.3 L105.9,420.2 L107.9,420.2 L109.9,420.2 L111.9,420.2 L113.9,420.2 L115.9,420.2 L117.9,420.2 L119.9,420.2 L121.9,420.2 L123.9,420.2 L125.9,420.2 L127.9,420.2 L129.9,420.2 L131.9,420.2 L133.9,420.2 L135.9,420.2 L137.9,420.2 L139.9,420.2 L141.9,420.2 L143.9,420.2 L145.9,420.2 L147.9,420.3 L149.9,420.3 L151.9,420.3 L153.9,420.3 L155.9,420.3 L157.9,420.3 L159.9,420.3 L161.9,420.4 L163.9,420.4 L165.9,420.4 L167.9,420.4 L169.9,420.4 L171.9,420.4 L173.9,420.4 L175.9,420.4 L177.9,420.4 L179.9,420.5 L181.9,420.5 L183.9,420.5 L185.9,420.5 L187.9,420.5 L189.9,420.5 L191.9,420.5 L193.9,420.5 L195.9,420.5 L197.9,420.5 L199.9,420.5 L201.9,420.4 L203.9,420.4 L205.9,420.4 L207.9,420.4 L209.9,420.4 L211.9,420.4 L213.9,420.3 L215.9,420.3 L217.9,420.3 L219.9,420.3 L221.9,420.2 L223.9,420.2 L225.9,420.1 L227.9,420.1 L229.9,420.1 L231.9,420.0 L233.9,419.9 L235.9,419.9 L237.9,419.8 L239.9,419.8 L241.9,419.7 L243.9,419.6 L245.9,419.5 L247.9,419.5 L249.9,419.4 L251.9,419.3 L253.9,419.2 L255.9,419.1 L257.9,419.0 L259.9,418.9 L261.9,418.7 L263.9,418.6 L265.9,418.5 L267.9,418.4 L269.9,418.2 L271.9,418.1 L273.9,418.0 L275.9,417.8 L277.9,417.6 L279.9,417.5 L281.9,417.3 L283.9,417.1 L285.9,417.0 L287.9,416.8 L289.9,416.6 L291.9,416.4 L293.9,416.2 L295.9,416.0 L297.9,415.7 L299.9,415.5 L301.9,415.3 L303.9,415.0 L305.9,414.8 L307.9,414.5 L309.9,414.3 L311.9,414.0 L313.9,413.7 L315.9,413.4 L317.9,413.2 L319.9,412.9 L321.9,412.5 L323.9,412.2 L325.9,411.9 L327.9,411.6 L329.9,411.2 L331.9,410.9 L333.9,410.5 L335.9,410.2 L337.9,409.8 L339.9,409.4 L341.9,409.0 L343.9,408.6 L345.9,408.2 L347.9,407.8 L349.9,407.4 L351.9,407.0 L353.9,406.5 L355.9,406.1 L357.9,405.6 L359.9,405.1 L361.9,404.6 L363.9,404.1 L365.9,403.6 L367.9,403.1 L369.9,402.6 L371.9,402.1 L373.9,401.5 L375.9,401.0 L377.9,400.4 L379.9,399.9 L381.9,399.3 L383.9,398.7 L385.9,398.1 L387.9,397.5 L389.9,396.8 L391.9,396.2 L393.9,395.5 L395.9,394.9 L397.9,394.2 L399.9,393.5 L401.9,392.8 L403.9,392.1 L405.9,391.4 L407.9,390.7 L409.9,389.9 L411.9,389.2 L413.9,388.4 L415.9,387.6 L417.9,386.8 L419.9,386.0 L421.9,385.2 L423.9,384.4 L425.9,383.5 L427.9,382.7 L429.9,381.8 L431.9,380.9 L433.9,380.0 L435.9,379.1 L437.9,378.2 L439.9,377.3 L441.9,376.3 L443.9,375.4 L445.9,374.4 L447.9,373.4 L449.9,372.4 L451.9,371.4 L453.9,370.4 L455.9,369.4 L457.9,368.3 L459.9,367.3 L461.9,366.2 L463.9,365.2 L465.9,364.1 L467.9,363.0 L469.9,361.9 L471.9,360.8 L473.9,359.7 L475.9,358.6 L477.9,357.5 L479.9,356.3 L481.9,355.2 L483.9,354.0 L485.9,352.9 L487.9,351.7 L489.9,350.6 L491.9,349.4 L493.9,348.2 L495.9,347.1 L497.9,345.9 L499.9,344.7 L501.9,343.5 L503.9,342.3 L505.9,341.1 L507.9,339.9 L509.9,338.7 L511.9,337.5 L513.9,336.3 L515.9,335.1 L517.9,333.8 L519.9,332.6 L521.9,331.4 L523.9,330.2 L525.9,329.0 L527.9,327.8 L529.9,326.6 L531.9,325.3 L533.9,324.1 L535.9,322.9 L537.9,321.7 L539.9,320.5 L541.9,319.3 L543.9,318.1 L545.9,316.9 L547.9,315.6 L549.9,314.4 L551.9,313.3 L553.9,312.1 L555.9,310.9 L557.9,309.7 L559.9,308.5 L561.9,307.3 L563.9,306.2 L565.9,305.0 L567.9,303.8 L569.9,302.7 L571.9,301.5 L573.9,300.4 L575.9,299.2 L577.9,298.1 L579.9,297.0 L581.9,295.9 L583.9,294.8 L585.9,293.7 L587.9,292.6 L589.9,291.5 L591.9,290.4 L593.9,289.4 L595.9,288.3 L597.9,287.3 L599.9,286.2 L601.9,285.2 L603.9,284.2 L605.9,283.2 L607.9,282.2 L609.9,281.2 L611.9,280.3 L613.9,279.3 L615.9,278.4 L617.9,277.5 L619.9,276.5 L621.9,275.6 L623.9,274.8 L625.9,273.9 L627.9,273.0 L629.9,272.2 L631.9,271.3 L633.9,270.5 L635.9,269.7 L637.9,268.9 L639.9,268.2 L641.9,267.4 L643.9,266.7 L645.9,265.9 L647.9,265.2 L649.9,264.5 L651.9,263.8 L653.9,263.1 L655.9,262.5 L657.9,261.8 L659.9,261.2 L661.9,260.5 L663.9,259.9 L665.9,259.3 L667.9,258.7 L669.9,258.2 L671.9,257.6 L673.9,257.0 L675.9,256.5 L677.9,256.0 L679.9,255.4 L681.9,254.9 L683.9,254.4 L685.9,253.9 L687.9,253.5 L689.9,253.0 L691.9,252.5 L693.9,252.1 L695.9,251.6 L697.9,251.2 L699.9,250.8 L701.9,250.4 L703.9,250.0 L705.9,249.6 L707.9,249.2 L709.9,248.9 L711.9,248.5 L713.9,248.1 L715.9,247.8 L717.9,247.5 L719.9,247.1 L721.9,246.8 L723.9,246.5 L725.9,246.2 L727.9,245.9 L729.9,245.6 L731.9,245.3 L733.9,245.1 L735.9,244.8 L737.9,244.5 L739.9,244.3 L741.9,244.0 L743.9,243.8 L745.9,243.6 L747.9,243.3 L749.9,243.1 L751.9,242.9 L753.9,242.7 L755.9,242.5 L757.9,242.3 L759.9,242.1 L761.9,241.9 L763.9,241.7 L765.9,241.5 L767.9,241.4 L769.9,241.2 L771.9,241.0 L773.9,240.9 L775.9,240.7 L777.9,240.6 L779.9,240.4 L781.9,240.3 L783.9,240.2 L785.9,240.0 L787.9,239.9 L789.9,239.8 L791.9,239.6 L793.9,239.5 L795.9,239.4 L797.9,239.3 L799.9,239.2 L801.9,239.0 L803.9,238.9 L805.9,238.8 L807.9,238.7 L809.9,238.6 L811.9,238.5 L813.9,238.4 L814.9,238.4" fill="none" stroke="#0000ff" stroke-width="2.5"/>
<path d="M85.8,222.7 L814.5,222.7" fill="none" stroke="#800080" stroke-width="2.5" stroke-dasharray="7.55 3.52"/>
<path d="M85.8,421.7 L814.5,421.7" fill="none" stroke="#00a810" stroke-width="2.5" stroke-dasharray="7.55 3.52"/>
<path d="M103.6,22.4 V57.0 M100.2,22.4 h6.8 M100.2,57.0 h6.8" stroke="#ff0000" stroke-width="2.3" fill="none"/>
<circle cx="103.6" cy="39.8" r="5.4" fill="#ff0000"/>
<path d="M190.3,29.9 V63.1 M186.9,29.9 h6.8 M186.9,63.1 h6.8" stroke="#ff0000" stroke-width="2.3" fill="none"/>
<circle cx="190.3" cy="46.8" r="5.4" fill="#ff0000"/>
<path d="M329.3,74.0 V103.9 M325.9,74.0 h6.8 M325.9,103.9 h6.8" stroke="#ff0000" stroke-width="2.3" fill="none"/>
<circle cx="329.3" cy="89.0" r="5.4" fill="#ff0000"/>
<path d="M467.5,115.6 V146.0 M464.1,115.6 h6.8 M464.1,146.0 h6.8" stroke="#ff0000" stroke-width="2.3" fill="none"/>
<circle cx="467.5" cy="131.2" r="5.4" fill="#ff0000"/>
<path d="M606.3,207.7 V236.0 M602.9,207.7 h6.8 M602.9,236.0 h6.8" stroke="#ff0000" stroke-width="2.3" fill="none"/>
<circle cx="606.3" cy="221.9" r="5.4" fill="#ff0000"/>
<path d="M745.0,222.5 V250.0 M741.6,222.5 h6.8 M741.6,250.0 h6.8" stroke="#ff0000" stroke-width="2.3" fill="none"/>
<circle cx="745.0" cy="236.2" r="5.4" fill="#ff0000"/>
<path d="M814.3,203.0 V235.5 M810.9,203.0 h6.8 M810.9,235.5 h6.8" stroke="#ff0000" stroke-width="2.3" fill="none"/>
<circle cx="814.3" cy="219.2" r="5.4" fill="#ff0000"/>
<path d="M93.6,216.3 V247.6 M90.2,216.3 h6.8 M90.2,247.6 h6.8" stroke="#800080" stroke-width="2.3" fill="none"/>
<circle cx="93.6" cy="232.2" r="5.4" fill="#800080"/>
<path d="M148.9,208.1 V237.3 M145.5,208.1 h6.8 M145.5,237.3 h6.8" stroke="#800080" stroke-width="2.3" fill="none"/>
<circle cx="148.9" cy="222.7" r="5.4" fill="#800080"/>
<path d="M190.4,194.6 V223.5 M187.0,194.6 h6.8 M187.0,223.5 h6.8" stroke="#800080" stroke-width="2.3" fill="none"/>
<circle cx="190.4" cy="209.2" r="5.4" fill="#800080"/>
<path d="M259.6,208.7 V238.4 M256.2,208.7 h6.8 M256.2,238.4 h6.8" stroke="#800080" stroke-width="2.3" fill="none"/>
<circle cx="259.6" cy="223.5" r="5.4" fill="#800080"/>
<path d="M329.0,197.1 V227.9 M325.6,197.1 h6.8 M325.6,227.9 h6.8" stroke="#800080" stroke-width="2.3" fill="none"/>
<circle cx="329.0" cy="212.8" r="5.4" fill="#800080"/>
<path d="M398.0,205.6 V230.7 M394.6,205.6 h6.8 M394.6,230.7 h6.8" stroke="#800080" stroke-width="2.3" fill="none"/>
<circle cx="398.0" cy="218.4" r="5.4" fill="#800080"/>
<path d="M467.5,207.9 V237.3 M464.1,207.9 h6.8 M464.1,237.3 h6.8" stroke="#800080" stroke-width="2.3" fill="none"/>
<circle cx="467.5" cy="222.8" r="5.4" fill="#800080"/>
<path d="M536.8,189.0 V219.3 M533.4,189.0 h6.8 M533.4,219.3 h6.8" stroke="#800080" stroke-width="2.3" fill="none"/>
<circle cx="536.8" cy="204.2" r="5.4" fill="#800080"/>
<path d="M606.3,226.3 V255.7 M602.9,226.3 h6.8 M602.9,255.7 h6.8" stroke="#800080" stroke-width="2.3" fill="none"/>
<circle cx="606.3" cy="241.0" r="5.4" fill="#800080"/>
<path d="M675.5,231.1 V257.8 M672.1,231.1 h6.8 M672.1,257.8 h6.8" stroke="#800080" stroke-width="2.3" fill="none"/>
<circle cx="675.5" cy="244.5" r="5.4" fill="#800080"/>
<path d="M745.0,207.2 V234.0 M741.6,207.2 h6.8 M741.6,234.0 h6.8" stroke="#800080" stroke-width="2.3" fill="none"/>
<circle cx="745.0" cy="220.7" r="5.4" fill="#800080"/>
<path d="M121.1,404.5 V430.0 M117.7,404.5 h6.8 M117.7,430.0 h6.8" stroke="#0000ff" stroke-width="2.3" fill="none"/>
<circle cx="121.1" cy="417.2" r="5.4" fill="#0000ff"/>
<path d="M190.8,408.3 V431.9 M187.4,408.3 h6.8 M187.4,431.9 h6.8" stroke="#0000ff" stroke-width="2.3" fill="none"/>
<circle cx="190.8" cy="420.0" r="5.4" fill="#0000ff"/>
<path d="M259.7,399.8 V425.8 M256.3,399.8 h6.8 M256.3,425.8 h6.8" stroke="#0000ff" stroke-width="2.3" fill="none"/>
<circle cx="259.7" cy="412.8" r="5.4" fill="#0000ff"/>
<path d="M328.7,380.6 V407.1 M325.3,380.6 h6.8 M325.3,407.1 h6.8" stroke="#0000ff" stroke-width="2.3" fill="none"/>
<circle cx="328.7" cy="394.3" r="5.4" fill="#0000ff"/>
<path d="M397.9,367.0 V392.4 M394.5,367.0 h6.8 M394.5,392.4 h6.8" stroke="#0000ff" stroke-width="2.3" fill="none"/>
<circle cx="397.9" cy="379.8" r="5.4" fill="#0000ff"/>
<path d="M467.6,334.4 V360.9 M464.2,334.4 h6.8 M464.2,360.9 h6.8" stroke="#0000ff" stroke-width="2.3" fill="none"/>
<circle cx="467.6" cy="347.8" r="5.4" fill="#0000ff"/>
<path d="M536.8,315.3 V341.1 M533.4,315.3 h6.8 M533.4,341.1 h6.8" stroke="#0000ff" stroke-width="2.3" fill="none"/>
<circle cx="536.8" cy="328.3" r="5.4" fill="#0000ff"/>
<path d="M606.3,273.9 V299.0 M602.9,273.9 h6.8 M602.9,299.0 h6.8" stroke="#0000ff" stroke-width="2.3" fill="none"/>
<circle cx="606.3" cy="286.2" r="5.4" fill="#0000ff"/>
<path d="M675.5,252.8 V277.7 M672.1,252.8 h6.8 M672.1,277.7 h6.8" stroke="#0000ff" stroke-width="2.3" fill="none"/>
<circle cx="675.5" cy="265.4" r="5.4" fill="#0000ff"/>
<path d="M745.0,234.0 V258.8 M741.6,234.0 h6.8 M741.6,258.8 h6.8" stroke="#0000ff" stroke-width="2.3" fill="none"/>
<circle cx="745.0" cy="246.2" r="5.4" fill="#0000ff"/>
<path d="M814.3,221.4 V245.7 M810.9,221.4 h6.8 M810.9,245.7 h6.8" stroke="#0000ff" stroke-width="2.3" fill="none"/>
<circle cx="814.3" cy="233.9" r="5.4" fill="#0000ff"/>
<path d="M114.3,408.3 V433.6 M110.9,408.3 h6.8 M110.9,433.6 h6.8" stroke="#00a810" stroke-width="2.3" fill="none"/>
<rect x="110.8" y="416.5" width="7" height="7" fill="#00a810"/>
<path d="M120.9,418.0 V445.8 M117.5,418.0 h6.8 M117.5,445.8 h6.8" stroke="#00a810" stroke-width="2.3" fill="none"/>
<rect x="117.4" y="427.9" width="7" height="7" fill="#00a810"/>
<path d="M191.0,413.4 V438.7 M187.6,413.4 h6.8 M187.6,438.7 h6.8" stroke="#00a810" stroke-width="2.3" fill="none"/>
<rect x="187.5" y="422.0" width="7" height="7" fill="#00a810"/>
<path d="M225.1,410.9 V438.2 M221.7,410.9 h6.8 M221.7,438.2 h6.8" stroke="#00a810" stroke-width="2.3" fill="none"/>
<rect x="221.6" y="420.1" width="7" height="7" fill="#00a810"/>
<path d="M259.8,409.9 V435.2 M256.4,409.9 h6.8 M256.4,435.2 h6.8" stroke="#00a810" stroke-width="2.3" fill="none"/>
<rect x="256.3" y="417.5" width="7" height="7" fill="#00a810"/>
<path d="M328.7,413.6 V438.5 M325.3,413.6 h6.8 M325.3,438.5 h6.8" stroke="#00a810" stroke-width="2.3" fill="none"/>
<rect x="325.2" y="421.8" width="7" height="7" fill="#00a810"/>
<path d="M397.9,409.6 V432.2 M394.5,409.6 h6.8 M394.5,432.2 h6.8" stroke="#00a810" stroke-width="2.3" fill="none"/>
<rect x="394.4" y="416.4" width="7" height="7" fill="#00a810"/>
<path d="M433.0,403.2 V429.3 M429.6,403.2 h6.8 M429.6,429.3 h6.8" stroke="#00a810" stroke-width="2.3" fill="none"/>
<rect x="429.5" y="411.8" width="7" height="7" fill="#00a810"/>
<path d="M467.6,403.5 V430.6 M464.2,403.5 h6.8 M464.2,430.6 h6.8" stroke="#00a810" stroke-width="2.3" fill="none"/>
<rect x="464.1" y="411.9" width="7" height="7" fill="#00a810"/>
<path d="M502.2,396.4 V423.0 M498.8,396.4 h6.8 M498.8,423.0 h6.8" stroke="#00a810" stroke-width="2.3" fill="none"/>
<rect x="498.7" y="404.8" width="7" height="7" fill="#00a810"/>
<path d="M536.8,411.5 V438.1 M533.4,411.5 h6.8 M533.4,438.1 h6.8" stroke="#00a810" stroke-width="2.3" fill="none"/>
<rect x="533.3" y="419.8" width="7" height="7" fill="#00a810"/>
<path d="M571.7,409.8 V435.8 M568.3,409.8 h6.8 M568.3,435.8 h6.8" stroke="#00a810" stroke-width="2.3" fill="none"/>
<rect x="568.2" y="418.1" width="7" height="7" fill="#00a810"/>
<path d="M606.3,413.6 V439.1 M602.9,413.6 h6.8 M602.9,439.1 h6.8" stroke="#00a810" stroke-width="2.3" fill="none"/>
<rect x="602.8" y="421.5" width="7" height="7" fill="#00a810"/>
<path d="M640.9,404.0 V429.8 M637.5,404.0 h6.8 M637.5,429.8 h6.8" stroke="#00a810" stroke-width="2.3" fill="none"/>
<rect x="637.4" y="411.9" width="7" height="7" fill="#00a810"/>
<path d="M675.7,413.6 V437.2 M672.3,413.6 h6.8 M672.3,437.2 h6.8" stroke="#00a810" stroke-width="2.3" fill="none"/>
<rect x="672.2" y="421.5" width="7" height="7" fill="#00a810"/>
<path d="M709.9,407.2 V431.3 M706.5,407.2 h6.8 M706.5,431.3 h6.8" stroke="#00a810" stroke-width="2.3" fill="none"/>
<rect x="706.4" y="415.0" width="7" height="7" fill="#00a810"/>
<path d="M745.0,413.0 V436.5 M741.6,413.0 h6.8 M741.6,436.5 h6.8" stroke="#00a810" stroke-width="2.3" fill="none"/>
<rect x="741.5" y="419.9" width="7" height="7" fill="#00a810"/>
<path d="M814.4,403.6 V426.5 M811.0,403.6 h6.8 M811.0,426.5 h6.8" stroke="#00a810" stroke-width="2.3" fill="none"/>
<rect x="810.9" y="410.4" width="7" height="7" fill="#00a810"/>
<path d="M86.5,470.0 v-5.6 M86.5,0.7 v5.6 M259.8,470.0 v-5.6 M259.8,0.7 v5.6 M433.1,470.0 v-5.6 M433.1,0.7 v5.6 M606.5,470.0 v-5.6 M606.5,0.7 v5.6 M779.8,470.0 v-5.6 M779.8,0.7 v5.6 M71.5,421.9 h5.6 M829.5,421.9 h-5.6 M71.5,301.6 h5.6 M829.5,301.6 h-5.6 M71.5,181.4 h5.6 M829.5,181.4 h-5.6 M71.5,61.1 h5.6 M829.5,61.1 h-5.6" stroke="#6e6e6e" stroke-width="1" fill="none"/>
<path d="M121.2,470.0 v-3.4 M121.2,0.7 v3.4 M155.8,470.0 v-3.4 M155.8,0.7 v3.4 M190.5,470.0 v-3.4 M190.5,0.7 v3.4 M225.2,470.0 v-3.4 M225.2,0.7 v3.4 M294.5,470.0 v-3.4 M294.5,0.7 v3.4 M329.2,470.0 v-3.4 M329.2,0.7 v3.4 M363.8,470.0 v-3.4 M363.8,0.7 v3.4 M398.5,470.0 v-3.4 M398.5,0.7 v3.4 M467.8,470.0 v-3.4 M467.8,0.7 v3.4 M502.5,470.0 v-3.4 M502.5,0.7 v3.4 M537.1,470.0 v-3.4 M537.1,0.7 v3.4 M571.8,470.0 v-3.4 M571.8,0.7 v3.4 M641.1,470.0 v-3.4 M641.1,0.7 v3.4 M675.8,470.0 v-3.4 M675.8,0.7 v3.4 M710.5,470.0 v-3.4 M710.5,0.7 v3.4 M745.1,470.0 v-3.4 M745.1,0.7 v3.4 M814.5,470.0 v-3.4 M814.5,0.7 v3.4 M71.5,445.9 h3.4 M829.5,445.9 h-3.4 M71.5,397.8 h3.4 M829.5,397.8 h-3.4 M71.5,373.8 h3.4 M829.5,373.8 h-3.4 M71.5,349.8 h3.4 M829.5,349.8 h-3.4 M71.5,325.7 h3.4 M829.5,325.7 h-3.4 M71.5,277.6 h3.4 M829.5,277.6 h-3.4 M71.5,253.5 h3.4 M829.5,253.5 h-3.4 M71.5,229.5 h3.4 M829.5,229.5 h-3.4 M71.5,205.4 h3.4 M829.5,205.4 h-3.4 M71.5,157.3 h3.4 M829.5,157.3 h-3.4 M71.5,133.3 h3.4 M829.5,133.3 h-3.4 M71.5,109.2 h3.4 M829.5,109.2 h-3.4 M71.5,85.2 h3.4 M829.5,85.2 h-3.4 M71.5,37.1 h3.4 M829.5,37.1 h-3.4 M71.5,13.0 h3.4 M829.5,13.0 h-3.4" stroke="#6e6e6e" stroke-width="0.8" fill="none"/>
<rect x="71.5" y="0.7" width="758.0" height="469.3" fill="none" stroke="#6e6e6e" stroke-width="1.1"/>
<text x="86.5" y="497.7" font-size="27" text-anchor="middle">5</text>
<text x="259.8" y="497.7" font-size="27" text-anchor="middle">10</text>
<text x="433.1" y="497.7" font-size="27" text-anchor="middle">15</text>
<text x="606.5" y="497.7" font-size="27" text-anchor="middle">20</text>
<text x="779.8" y="497.7" font-size="27" text-anchor="middle">25</text>
<text x="66.0" y="430.9" font-size="27" text-anchor="end">0</text>
<text x="66.0" y="310.6" font-size="27" text-anchor="end">5</text>
<text x="66.0" y="190.4" font-size="27" text-anchor="end">10</text>
<text x="66.0" y="70.1" font-size="27" text-anchor="end">15</text>
<text x="450.4" y="537.6" font-size="28" text-anchor="middle" textLength="185" lengthAdjust="spacingAndGlyphs">Temperature (K)</text>
<g transform="translate(24.7,319.4) rotate(-90)" font-size="29.2"><text x="0" y="0">&#915;</text><text x="14.8" y="4.5" font-size="20">ISC</text><text x="47.0" y="0" font-style="italic" textLength="36.8" lengthAdjust="spacingAndGlyphs">/2&#960;</text><text x="92.0" y="0" textLength="76.4" lengthAdjust="spacingAndGlyphs">(MHz)</text></g>
<g fill="#ff0000" stroke="#ff0000"><path d="M101.1,79.6 V103.3" stroke-width="1.5" fill="none"/><path d="M135.2,79.6 L141.5,91.4 L135.2,103.3" stroke-width="1.5" fill="none" stroke-linejoin="miter"/><text transform="translate(105.6,98.6) scale(0.925,1.067)" font-size="27.5" font-style="italic" stroke="none" style="fill:#ff0000">A</text><text transform="translate(123.6,102.8) scale(0.78,1)" font-size="19.5" stroke="none" style="fill:#ff0000">1</text></g>
<g fill="#800080" stroke="#800080"><path d="M93.0,176.3 V200.0" stroke-width="1.5" fill="none"/><path d="M141.8,176.3 L148.1,188.2 L141.8,200.0" stroke-width="1.5" fill="none" stroke-linejoin="miter"/><text transform="translate(97.5,195.3) scale(0.925,1.067)" font-size="27.5" font-style="italic" stroke="none" style="fill:#800080">E</text><text transform="translate(115.2,199.5) scale(0.95,1)" font-size="19.5" stroke="none" style="fill:#800080">1,2</text></g>
<g fill="#0000ff" stroke="#0000ff"><path d="M100.6,373.8 V397.5" stroke-width="1.5" fill="none"/><path d="M134.7,373.8 L141.0,385.7 L134.7,397.5" stroke-width="1.5" fill="none" stroke-linejoin="miter"/><text transform="translate(105.1,392.8) scale(0.925,1.067)" font-size="27.5" font-style="italic" stroke="none" style="fill:#0000ff">A</text><text transform="translate(122.8,397.0) scale(0.95,1)" font-size="19.5" stroke="none" style="fill:#0000ff">2</text></g>
<g fill="#00a810" stroke="#00a810"><path d="M691.1,375.4 V399.1" stroke-width="1.5" fill="none"/><path d="M723.8,375.4 L730.1,387.2 L723.8,399.1" stroke-width="1.5" fill="none" stroke-linejoin="miter"/><text transform="translate(695.6,394.4) scale(0.925,1.067)" font-size="27.5" font-style="italic" stroke="none" style="fill:#00a810">E</text><text transform="translate(713.3,398.6) scale(0.95,1)" font-size="19.5" stroke="none" style="fill:#00a810" font-style="italic">x</text></g>
<rect x="555.4" y="10.5" width="263.2" height="156.1" fill="#fff"/>
<clipPath id="ic"><rect x="555.4" y="10.5" width="263.2" height="156.1"/></clipPath>
<path d="M565.1,182.2 L566.3,158.6 L567.6,137.6 L568.8,120.8 L570.1,100.4 L571.3,86.3 L572.6,72.1 L573.8,62.1 L575.1,51.3 L576.3,43.5 L577.6,36.1 L578.8,30.5 L580.1,28.9 L581.3,24.5 L582.6,24.7 L583.8,21.9 L585.1,22.4 L586.3,18.6 L587.6,22.3 L588.8,21.7 L590.0,24.0 L591.3,26.1 L592.5,24.1 L593.8,22.3 L595.0,23.3 L596.3,24.2 L597.5,25.4 L598.8,26.9 L600.0,29.1 L601.3,26.7 L602.5,28.5 L603.8,34.1 L605.0,32.1 L606.3,34.4 L607.5,30.8 L608.8,26.4 L610.0,32.1 L611.3,35.0 L612.5,30.8 L613.8,34.6 L615.0,33.1 L616.2,31.4 L617.5,37.5 L618.7,40.0 L620.0,35.8 L621.2,37.9 L622.5,39.0 L623.7,37.0 L625.0,40.8 L626.2,44.4 L627.5,37.2 L628.7,46.8 L630.0,51.5 L631.2,41.2 L632.5,44.4 L633.7,45.6 L635.0,53.7 L636.2,42.4 L637.5,49.8 L638.7,42.6 L639.9,56.3 L641.2,51.3 L642.4,54.1 L643.7,45.8 L644.9,52.5 L646.2,57.3 L647.4,53.1 L648.7,58.1 L649.9,55.4 L651.2,57.6 L652.4,54.9 L653.7,63.4 L654.9,58.8 L656.2,57.9 L657.4,57.1 L658.7,54.9 L659.9,49.7 L661.2,54.5 L662.4,63.4 L663.7,60.9 L664.9,72.4 L666.1,62.8 L667.4,73.1 L668.6,74.1 L669.9,64.7 L671.1,63.7 L672.4,67.1 L673.6,73.3 L674.9,61.4 L676.1,72.9 L677.4,68.4 L678.6,76.3 L679.9,64.2 L681.1,66.8 L682.4,88.7 L683.6,73.1 L684.9,81.3 L686.1,67.2 L687.4,75.1 L688.6,79.2 L689.8,71.1 L691.1,73.4 L692.3,77.3 L693.6,81.8 L694.8,93.7 L696.1,78.3 L697.3,75.3 L698.6,71.3 L699.8,72.4 L701.1,72.2 L702.3,82.6 L703.6,82.4 L704.8,95.2 L706.1,90.2 L707.3,72.9 L708.6,85.7 L709.8,85.5 L711.1,87.5 L712.3,76.7 L713.6,85.2 L714.8,81.3 L716.0,87.0 L717.3,89.1 L718.5,86.8 L719.8,88.9 L721.0,80.8 L722.3,91.1 L723.5,110.6 L724.8,110.5 L726.0,102.5 L727.3,93.2 L728.5,95.9 L729.8,98.8 L731.0,95.7 L732.3,90.3 L733.5,136.9 L734.8,90.2 L736.0,90.1 L737.3,114.6 L738.5,92.5 L739.7,95.1 L741.0,92.3 L742.2,87.3 L743.5,105.0 L744.7,114.1 L746.0,101.2 L747.2,101.1 L748.5,101.0 L749.7,104.7 L751.0,94.5 L752.2,108.8 L753.5,148.6 L754.7,97.3 L756.0,104.4 L757.2,119.3 L758.5,126.3 L759.7,108.4 L761.0,119.1 L762.2,91.2 L763.5,113.2 L764.7,135.2 L765.9,100.2 L767.2,113.0 L768.4,108.1 L769.7,135.0 L770.9,118.7 L772.2,147.7 L773.4,125.7 L774.7,107.8 L775.9,107.8 L777.2,112.6 L778.4,125.5 L779.7,125.4 L780.9,107.6 L782.2,147.4 L783.4,118.2 L784.7,112.4 L785.9,118.2 L787.2,112.3 L788.4,125.2 L789.6,118.0 L790.9,134.2 L792.1,112.2 L793.4,134.2 L794.6,134.1 L795.9,147.0 L797.1,169.0 L798.4,169.0 L799.6,168.9 L800.9,124.8 L802.1,124.8 L803.4,133.9 L804.6,146.8 L805.9,124.7 L807.1,124.7 L808.4,133.8 L809.6,196.6 L810.9,124.6 L812.1,133.7 L813.4,133.7 L814.6,168.6 L815.8,133.7" fill="none" stroke="rgba(0,0,255,0.41)" stroke-width="2.1" clip-path="url(#ic)"/>
<path d="M563.4,181.8 L564.6,156.8 L565.8,137.3 L567.1,116.0 L568.3,99.3 L569.6,83.7 L570.8,71.3 L572.1,59.1 L573.3,52.0 L574.6,43.8 L575.8,34.8 L577.1,30.1 L578.3,27.8 L579.6,23.3 L580.8,19.9 L582.1,20.3 L583.3,18.6 L584.6,22.1 L585.8,21.3 L587.1,28.0 L588.3,24.4 L589.5,22.2 L590.8,24.5 L592.0,25.8 L593.3,22.4 L594.5,25.6 L595.8,34.3 L597.0,30.7 L598.3,33.2 L599.5,29.3 L600.8,34.4 L602.0,34.9 L603.3,33.2 L604.5,36.6 L605.8,47.4 L607.0,40.3 L608.3,42.8 L609.5,43.1 L610.8,45.0 L612.0,43.7 L613.3,41.4 L614.5,43.3 L615.7,48.8 L617.0,52.4 L618.2,51.7 L619.5,62.1 L620.7,46.7 L622.0,65.5 L623.2,63.6 L624.5,61.7 L625.7,54.7 L627.0,56.1 L628.2,52.5 L629.5,58.1 L630.7,57.5 L632.0,64.6 L633.2,62.6 L634.5,60.7 L635.7,64.4 L637.0,63.8 L638.2,74.0 L639.4,69.5 L640.7,73.0 L641.9,68.5 L643.2,84.8 L644.4,84.4 L645.7,68.9 L646.9,72.7 L648.2,70.1 L649.4,74.2 L650.7,82.1 L651.9,75.8 L653.2,88.3 L654.4,84.1 L655.7,91.7 L656.9,67.1 L658.2,108.7 L659.4,70.9 L660.7,95.1 L661.9,89.8 L663.2,72.3 L664.4,94.0 L665.6,99.5 L666.9,106.3 L668.1,105.9 L669.4,92.7 L670.6,98.2 L671.9,114.2 L673.1,113.9 L674.4,113.6 L675.6,82.1 L676.9,86.1 L678.1,96.6 L679.4,85.6 L680.6,96.1 L681.9,95.8 L683.1,124.7 L684.4,124.5 L685.6,102.2 L686.9,94.9 L688.1,84.0 L689.3,145.7 L690.6,83.6 L691.8,88.3 L693.1,145.1 L694.3,196.6 L695.6,109.8 L696.8,93.4 L698.1,122.4 L699.3,109.3 L700.6,122.0 L701.8,196.6 L703.1,121.7 L704.3,121.6 L705.6,121.5 L706.8,121.3 L708.1,121.2 L709.3,108.2 L710.6,196.6 L711.8,120.8 L713.1,120.7 L714.3,196.6 L715.5,142.5 L716.8,142.4 L718.0,196.6 L719.3,196.6 L720.5,120.1 L721.8,120.0 L723.0,119.9 L724.3,196.6 L725.5,141.8 L726.8,119.6 L728.0,119.6 L729.3,141.5 L730.5,141.5 L731.8,196.6 L733.0,106.4 L734.3,97.2 L735.5,119.1 L736.8,141.1 L738.0,106.1 L739.2,141.0 L740.5,140.9 L741.7,118.8 L743.0,118.8 L744.2,140.8 L745.5,118.7 L746.7,140.7 L748.0,140.6 L749.2,140.6 L750.5,196.6 L751.7,196.6 L753.0,140.5 L754.2,196.6 L755.5,196.6 L756.7,196.6 L758.0,196.6 L759.2,140.3 L760.5,140.2 L761.7,140.2 L763.0,196.6 L764.2,196.6 L765.4,140.1 L766.7,140.1 L767.9,196.6 L769.2,105.1 L770.4,140.0 L771.7,140.0 L772.9,196.6 L774.2,196.6 L775.4,196.6 L776.7,196.6 L777.9,196.6 L779.2,196.6 L780.4,139.8 L781.7,139.8 L782.9,196.6 L784.2,196.6 L785.4,196.6 L786.7,196.6 L787.9,139.7 L789.1,104.8 L790.4,196.6 L791.6,139.7 L792.9,139.7 L794.1,196.6 L795.4,139.6 L796.6,104.7 L797.9,196.6 L799.1,139.6 L800.4,117.6 L801.6,196.6 L802.9,196.6 L804.1,196.6 L805.4,196.6 L806.6,196.6 L807.9,196.6 L809.1,196.6 L810.4,196.6 L811.6,196.6 L812.9,139.5 L814.1,139.5" fill="none" stroke="rgba(128,0,128,0.41)" stroke-width="2.1" clip-path="url(#ic)"/>
<path d="M562.8,178.2 L564.0,155.0 L565.2,134.1 L566.5,116.9 L567.7,99.1 L569.0,84.9 L570.2,68.8 L571.5,57.6 L572.7,49.1 L574.0,41.1 L575.2,33.5 L576.5,32.4 L577.7,25.6 L579.0,22.2 L580.2,23.6 L581.5,25.5 L582.7,25.2 L584.0,25.7 L585.2,20.3 L586.5,22.6 L587.7,27.4 L589.0,24.1 L590.2,28.9 L591.4,29.5 L592.7,27.3 L593.9,30.1 L595.2,31.7 L596.4,35.7 L597.7,29.2 L598.9,36.1 L600.2,38.8 L601.4,40.3 L602.7,38.6 L603.9,44.4 L605.2,40.6 L606.4,43.6 L607.7,51.6 L608.9,50.8 L610.2,52.8 L611.4,49.1 L612.7,55.1 L613.9,48.3 L615.1,56.2 L616.4,60.4 L617.6,60.7 L618.9,64.7 L620.1,59.3 L621.4,62.1 L622.6,65.4 L623.9,64.7 L625.1,62.8 L626.4,67.9 L627.6,70.7 L628.9,63.7 L630.1,71.4 L631.4,62.6 L632.6,62.1 L633.9,75.9 L635.1,73.2 L636.4,79.8 L637.6,85.2 L638.9,81.7 L640.1,78.4 L641.3,87.2 L642.6,86.7 L643.8,90.1 L645.1,82.6 L646.3,111.3 L647.6,81.8 L648.8,88.6 L650.1,97.4 L651.3,119.1 L652.6,77.4 L653.8,102.2 L655.1,109.0 L656.3,101.6 L657.6,101.3 L658.8,108.1 L660.1,107.9 L661.3,100.5 L662.6,116.5 L663.8,116.3 L665.0,151.0 L666.3,115.8 L667.5,128.5 L668.8,150.4 L670.0,106.1 L671.3,115.0 L672.5,196.6 L673.8,105.5 L675.0,127.4 L676.3,92.3 L677.5,114.2 L678.8,149.0 L680.0,148.9 L681.3,104.6 L682.5,104.5 L683.8,126.4 L685.0,196.6 L686.3,126.2 L687.5,196.6 L688.8,148.0 L690.0,125.9 L691.2,103.7 L692.5,125.7 L693.7,147.6 L695.0,125.5 L696.2,196.6 L697.5,196.6 L698.7,147.3 L700.0,196.6 L701.2,147.2 L702.5,147.1 L703.7,147.0 L705.0,196.6 L706.2,146.9 L707.5,124.8 L708.7,111.9 L710.0,124.7 L711.2,124.7 L712.5,196.6 L713.7,146.6 L714.9,196.6 L716.2,196.6 L717.4,196.6 L718.7,146.4 L719.9,146.4 L721.2,146.4 L722.4,146.3 L723.7,146.3 L724.9,196.6" fill="none" stroke="rgba(255,0,0,0.40)" stroke-width="2.1" clip-path="url(#ic)"/>
<path d="M593.5,33.7 L594.8,35.1 L596.0,36.5 L597.3,37.9 L598.5,39.3 L599.8,40.7 L601.0,42.2 L602.3,43.6 L603.5,45.0 L604.8,46.4 L606.0,47.8 L607.3,49.2 L608.5,50.6 L609.8,52.0 L611.0,53.4 L612.3,54.8 L613.5,56.2 L614.7,57.6 L616.0,59.0 L617.2,60.5 L618.5,61.9 L619.7,63.3 L621.0,64.7 L622.2,66.1 L623.5,67.5 L624.7,68.9 L626.0,70.3 L627.2,71.7 L628.5,73.1 L629.7,74.5 L631.0,75.9 L632.2,77.3 L633.5,78.6 L634.7,80.0 L636.0,81.4 L637.2,82.8 L638.5,84.2 L639.7,85.6 L640.9,87.0 L642.2,88.4 L643.4,89.7 L644.7,91.1 L645.9,92.5 L647.2,93.9 L648.4,95.3 L649.7,96.6 L650.9,98.0 L652.2,99.4 L653.4,100.7 L654.7,102.1 L655.9,103.5 L657.2,104.8 L658.4,106.2 L659.7,107.5 L660.9,108.9 L662.2,110.3 L663.4,111.6 L664.6,112.9 L665.9,114.3 L667.1,115.6 L668.4,117.0 L669.6,118.3 L670.9,119.6 L672.1,120.9 L673.4,122.3 L674.6,123.6 L675.9,124.9 L677.1,126.2 L678.4,127.5 L679.6,128.8 L680.9,130.1 L682.1,131.3 L683.4,132.6 L684.6,133.9 L685.9,135.2 L687.1,136.4 L688.4,137.7 L689.6,138.9 L690.8,140.2 L692.1,141.4 L693.3,142.6 L694.6,143.9 L695.8,145.1 L697.1,146.3 L698.3,147.5 L699.6,148.7 L700.8,149.8 L702.1,151.0 L703.3,152.2 L704.6,153.3 L705.8,154.4 L707.1,155.6 L708.3,156.7 L709.6,157.8 L710.8,158.9 L712.1,160.0 L713.3,161.1 L714.5,162.1 L715.8,163.2 L717.0,164.2 L718.3,165.2 L719.5,166.3 L720.8,167.3 L722.0,168.2 L723.3,169.2 L724.5,170.2 L725.8,171.1 L727.0,172.1 L728.3,173.0 L729.5,173.9 L730.8,174.8 L732.0,175.6 L733.3,176.5 L734.5,177.3 L735.8,178.2 L737.0,179.0 L738.3,179.8 L739.5,180.6 L740.7,181.3 L742.0,182.1 L743.2,182.8 L744.5,183.5 L745.7,184.2 L747.0,184.9 L748.2,185.6 L749.5,186.2 L750.7,186.9 L752.0,187.5 L753.2,188.1 L754.5,188.7 L755.7,189.3 L757.0,189.8 L758.2,190.4 L759.5,190.9 L760.7,191.4 L762.0,191.9 L763.2,192.4 L764.4,192.9 L765.7,193.4 L766.9,193.8 L768.2,194.2 L769.4,194.7 L770.7,195.1 L771.9,195.5 L773.2,195.8 L774.4,196.2 L775.7,196.6 L776.9,196.9 L778.2,197.2 L779.4,197.6 L780.7,197.9 L781.9,198.2 L783.2,198.5 L784.4,198.7 L785.7,199.0 L786.9,199.3 L788.2,199.5 L789.4,199.8 L790.6,200.0 L791.9,200.2 L793.1,200.4 L794.4,200.6 L795.6,200.8 L796.9,201.0 L798.1,201.2 L799.4,201.4 L800.6,201.6 L801.9,201.7 L803.1,201.9 L804.4,202.0 L805.6,202.2 L806.9,202.3 L808.1,202.5 L809.4,202.6 L810.6,202.7 L811.9,202.8 L813.1,203.0" fill="none" stroke="#ff0000" stroke-width="2.6" clip-path="url(#ic)"/>
<path d="M593.5,33.7 L594.8,34.8 L596.0,35.9 L597.3,37.0 L598.5,38.1 L599.8,39.1 L601.0,40.2 L602.3,41.3 L603.5,42.4 L604.8,43.5 L606.0,44.6 L607.3,45.7 L608.5,46.7 L609.8,47.8 L611.0,48.9 L612.3,50.0 L613.5,51.1 L614.7,52.1 L616.0,53.2 L617.2,54.3 L618.5,55.4 L619.7,56.5 L621.0,57.5 L622.2,58.6 L623.5,59.7 L624.7,60.7 L626.0,61.8 L627.2,62.9 L628.5,64.0 L629.7,65.0 L631.0,66.1 L632.2,67.1 L633.5,68.2 L634.7,69.3 L636.0,70.3 L637.2,71.4 L638.5,72.4 L639.7,73.5 L640.9,74.6 L642.2,75.6 L643.4,76.7 L644.7,77.7 L645.9,78.8 L647.2,79.8 L648.4,80.8 L649.7,81.9 L650.9,82.9 L652.2,84.0 L653.4,85.0 L654.7,86.0 L655.9,87.1 L657.2,88.1 L658.4,89.1 L659.7,90.1 L660.9,91.2 L662.2,92.2 L663.4,93.2 L664.6,94.2 L665.9,95.2 L667.1,96.2 L668.4,97.2 L669.6,98.2 L670.9,99.2 L672.1,100.2 L673.4,101.2 L674.6,102.2 L675.9,103.2 L677.1,104.1 L678.4,105.1 L679.6,106.1 L680.9,107.0 L682.1,108.0 L683.4,109.0 L684.6,109.9 L685.9,110.9 L687.1,111.8 L688.4,112.7 L689.6,113.7 L690.8,114.6 L692.1,115.5 L693.3,116.4 L694.6,117.3 L695.8,118.2 L697.1,119.1 L698.3,120.0 L699.6,120.9 L700.8,121.8 L702.1,122.7 L703.3,123.6 L704.6,124.4 L705.8,125.3 L707.1,126.1 L708.3,127.0 L709.6,127.8 L710.8,128.6 L712.1,129.5 L713.3,130.3 L714.5,131.1 L715.8,131.9 L717.0,132.7 L718.3,133.5 L719.5,134.2 L720.8,135.0 L722.0,135.8 L723.3,136.5 L724.5,137.3 L725.8,138.0 L727.0,138.7 L728.3,139.4 L729.5,140.1 L730.8,140.8 L732.0,141.5 L733.3,142.2 L734.5,142.9 L735.8,143.6 L737.0,144.2 L738.3,144.9 L739.5,145.5 L740.7,146.1 L742.0,146.7 L743.2,147.3 L744.5,147.9 L745.7,148.5 L747.0,149.1 L748.2,149.7 L749.5,150.2 L750.7,150.8 L752.0,151.3 L753.2,151.9 L754.5,152.4 L755.7,152.9 L757.0,153.4 L758.2,153.9 L759.5,154.4 L760.7,154.9 L762.0,155.3 L763.2,155.8 L764.4,156.2 L765.7,156.7 L766.9,157.1 L768.2,157.5 L769.4,157.9 L770.7,158.3 L771.9,158.7 L773.2,159.1 L774.4,159.5 L775.7,159.8 L776.9,160.2 L778.2,160.5 L779.4,160.9 L780.7,161.2 L781.9,161.5 L783.2,161.9 L784.4,162.2 L785.7,162.5 L786.9,162.8 L788.2,163.0 L789.4,163.3 L790.6,163.6 L791.9,163.9 L793.1,164.1 L794.4,164.4 L795.6,164.6 L796.9,164.9 L798.1,165.1 L799.4,165.3 L800.6,165.5 L801.9,165.7 L803.1,166.0 L804.4,166.2 L805.6,166.4 L806.9,166.5 L808.1,166.7 L809.4,166.9 L810.6,167.1 L811.9,167.3 L813.1,167.4" fill="none" stroke="#800080" stroke-width="2.6" clip-path="url(#ic)"/>
<path d="M593.5,26.9 L594.8,27.6 L596.0,28.2 L597.3,28.9 L598.5,29.5 L599.8,30.2 L601.0,30.9 L602.3,31.5 L603.5,32.2 L604.8,32.9 L606.0,33.5 L607.3,34.2 L608.5,34.8 L609.8,35.5 L611.0,36.2 L612.3,36.8 L613.5,37.5 L614.7,38.1 L616.0,38.8 L617.2,39.5 L618.5,40.1 L619.7,40.8 L621.0,41.4 L622.2,42.1 L623.5,42.8 L624.7,43.4 L626.0,44.1 L627.2,44.8 L628.5,45.4 L629.7,46.1 L631.0,46.7 L632.2,47.4 L633.5,48.1 L634.7,48.7 L636.0,49.4 L637.2,50.0 L638.5,50.7 L639.7,51.4 L640.9,52.0 L642.2,52.7 L643.4,53.3 L644.7,54.0 L645.9,54.7 L647.2,55.3 L648.4,56.0 L649.7,56.6 L650.9,57.3 L652.2,58.0 L653.4,58.6 L654.7,59.3 L655.9,59.9 L657.2,60.6 L658.4,61.3 L659.7,61.9 L660.9,62.6 L662.2,63.2 L663.4,63.9 L664.6,64.6 L665.9,65.2 L667.1,65.9 L668.4,66.5 L669.6,67.2 L670.9,67.9 L672.1,68.5 L673.4,69.2 L674.6,69.8 L675.9,70.5 L677.1,71.2 L678.4,71.8 L679.6,72.5 L680.9,73.1 L682.1,73.8 L683.4,74.5 L684.6,75.1 L685.9,75.8 L687.1,76.4 L688.4,77.1 L689.6,77.7 L690.8,78.4 L692.1,79.1 L693.3,79.7 L694.6,80.4 L695.8,81.0 L697.1,81.7 L698.3,82.4 L699.6,83.0 L700.8,83.7 L702.1,84.3 L703.3,85.0 L704.6,85.6 L705.8,86.3 L707.1,87.0 L708.3,87.6 L709.6,88.3 L710.8,88.9 L712.1,89.6 L713.3,90.2 L714.5,90.9 L715.8,91.5 L717.0,92.2 L718.3,92.9 L719.5,93.5 L720.8,94.2 L722.0,94.8 L723.3,95.5 L724.5,96.1 L725.8,96.8 L727.0,97.4 L728.3,98.1 L729.5,98.8 L730.8,99.4 L732.0,100.1 L733.3,100.7 L734.5,101.4 L735.8,102.0 L737.0,102.7 L738.3,103.3 L739.5,104.0 L740.7,104.6 L742.0,105.3 L743.2,105.9 L744.5,106.6 L745.7,107.3 L747.0,107.9 L748.2,108.6 L749.5,109.2 L750.7,109.9 L752.0,110.5 L753.2,111.2 L754.5,111.8 L755.7,112.5 L757.0,113.1 L758.2,113.8 L759.5,114.4 L760.7,115.1 L762.0,115.7 L763.2,116.4 L764.4,117.0 L765.7,117.7 L766.9,118.3 L768.2,119.0 L769.4,119.6 L770.7,120.3 L771.9,120.9 L773.2,121.5 L774.4,122.2 L775.7,122.8 L776.9,123.5 L778.2,124.1 L779.4,124.8 L780.7,125.4 L781.9,126.1 L783.2,126.7 L784.4,127.4 L785.7,128.0 L786.9,128.6 L788.2,129.3 L789.4,129.9 L790.6,130.6 L791.9,131.2 L793.1,131.8 L794.4,132.5 L795.6,133.1 L796.9,133.8 L798.1,134.4 L799.4,135.0 L800.6,135.7 L801.9,136.3 L803.1,137.0 L804.4,137.6 L805.6,138.2 L806.9,138.9 L808.1,139.5 L809.4,140.1 L810.6,140.8 L811.9,141.4 L813.1,142.0" fill="none" stroke="#0000ff" stroke-width="2.6" clip-path="url(#ic)"/>
<rect x="555.4" y="10.5" width="263.2" height="156.1" fill="none" stroke="#848484" stroke-width="1"/>
<path d="M555.4,20.9 h3.2 M555.4,94.1 h3.2 M564.6,166.6 v-3.5 M814.1,166.6 v-3.5" stroke="#6e6e6e" stroke-width="1" fill="none"/>
<text x="520.0" y="27.9" font-size="21.5">10</text><text x="542.3" y="19.7" font-size="15">2</text>
<text x="520.0" y="100.6" font-size="21.5">10</text><text x="542.3" y="92.4" font-size="15">1</text>
<text x="520.0" y="173.6" font-size="21.5">10</text><text x="542.3" y="165.4" font-size="15">0</text>
<text x="564.6" y="189.9" font-size="21.5" text-anchor="middle">0</text>
<text x="812.7" y="189.9" font-size="21.5" text-anchor="middle">50</text>
<text x="692.8" y="197.9" font-size="22" text-anchor="middle" textLength="84.6" lengthAdjust="spacingAndGlyphs">Time (ns)</text>
<text x="708.6" y="45.9" font-size="22.6" textLength="97.6" lengthAdjust="spacingAndGlyphs">T = 5&#8722;6 K</text>
<g transform="translate(510.6,155.3) rotate(-90)"><text x="0" y="0" font-size="22.8" textLength="123.2" lengthAdjust="spacingAndGlyphs" xml:space="preserve">Fluor.  (A.U.)</text></g>
<g fill="#0000ff" stroke="#0000ff"><path d="M578.7,73.8 V97.5" stroke-width="1.5" fill="none"/><path d="M612.8,73.8 L619.1,85.6 L612.8,97.5" stroke-width="1.5" fill="none" stroke-linejoin="miter"/><text transform="translate(583.2,92.8) scale(0.925,1.067)" font-size="27.5" font-style="italic" stroke="none" style="fill:#0000ff">A</text><text transform="translate(600.9,97.0) scale(0.95,1)" font-size="19.5" stroke="none" style="fill:#0000ff">2</text></g>
<g fill="#800080" stroke="#800080"><path d="M578.7,104.5 V128.2" stroke-width="1.5" fill="none"/><path d="M627.5,104.5 L633.8,116.3 L627.5,128.2" stroke-width="1.5" fill="none" stroke-linejoin="miter"/><text transform="translate(583.2,123.5) scale(0.925,1.067)" font-size="27.5" font-style="italic" stroke="none" style="fill:#800080">E</text><text transform="translate(600.9,127.7) scale(0.95,1)" font-size="19.5" stroke="none" style="fill:#800080">1,2</text></g>
<g fill="#ff0000" stroke="#ff0000"><path d="M578.7,135.6 V159.3" stroke-width="1.5" fill="none"/><path d="M612.8,135.6 L619.1,147.4 L612.8,159.3" stroke-width="1.5" fill="none" stroke-linejoin="miter"/><text transform="translate(583.2,154.6) scale(0.925,1.067)" font-size="27.5" font-style="italic" stroke="none" style="fill:#ff0000">A</text><text transform="translate(601.2,158.8) scale(0.78,1)" font-size="19.5" stroke="none" style="fill:#ff0000">1</text></g>
</svg>
</body></html>
